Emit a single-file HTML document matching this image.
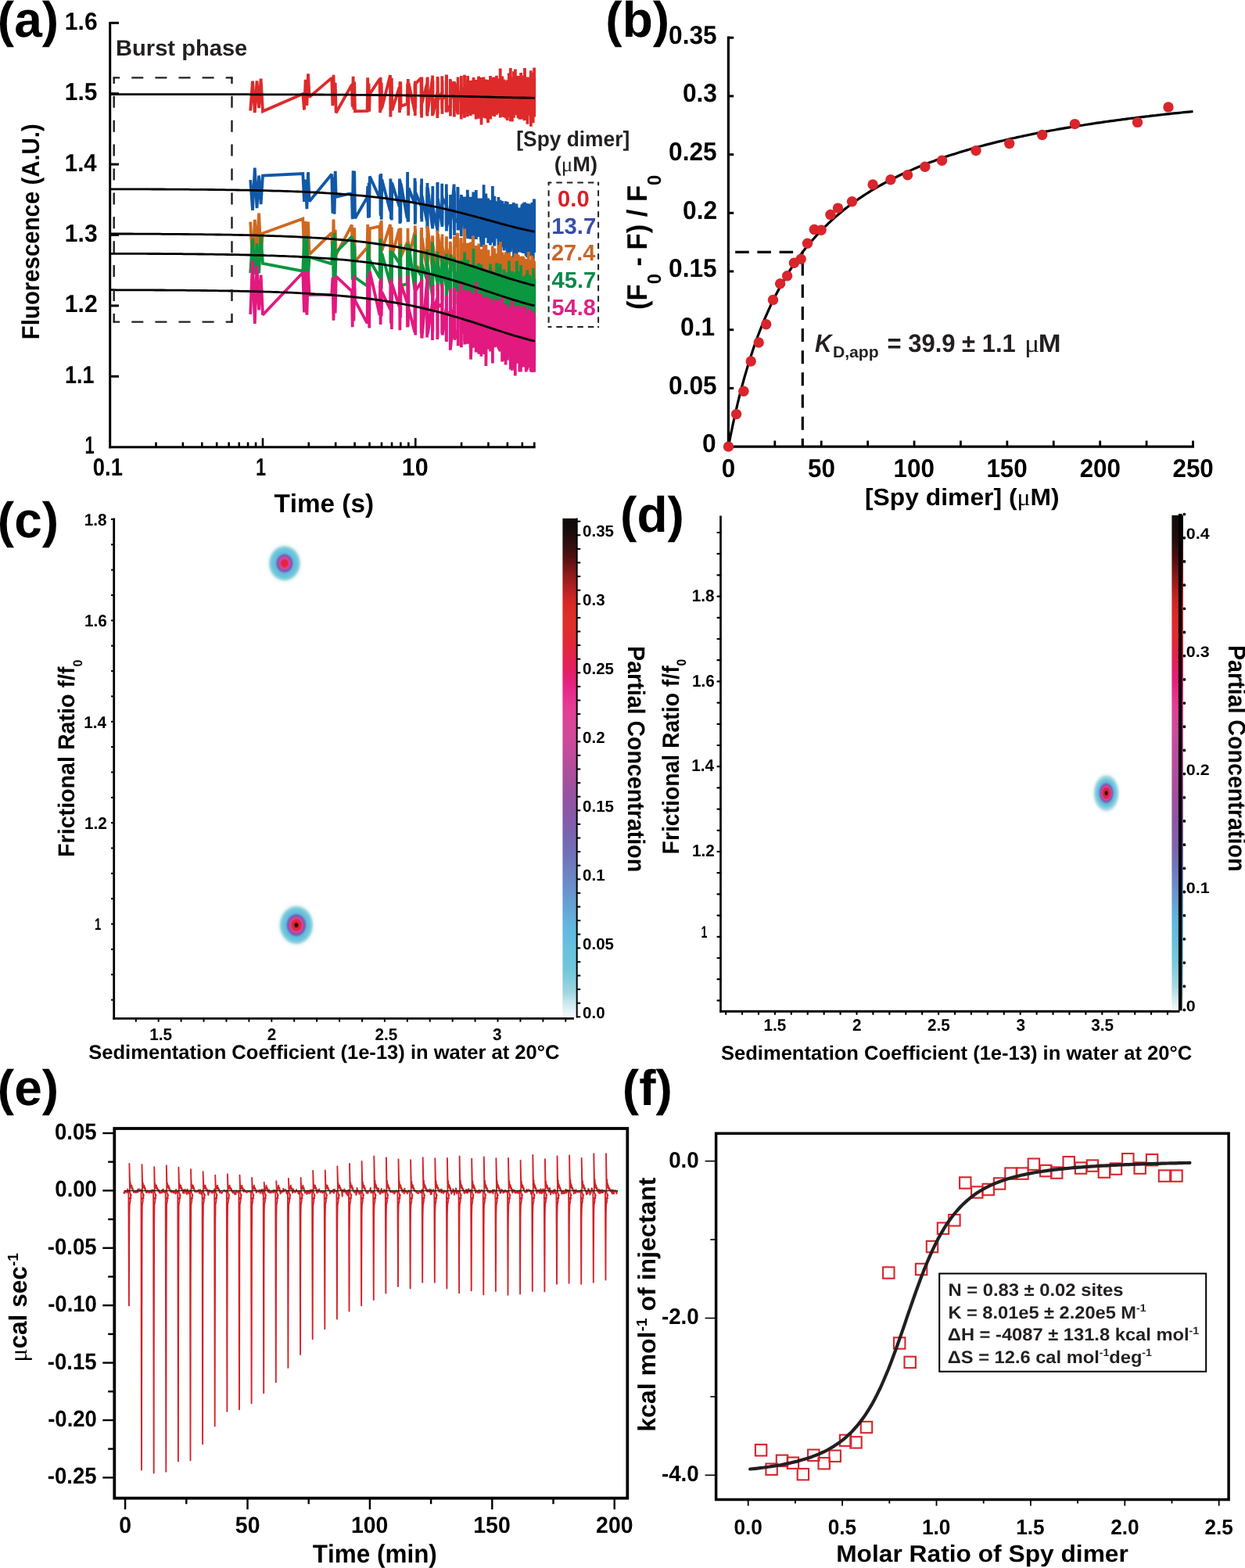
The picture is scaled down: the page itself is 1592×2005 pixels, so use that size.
<!DOCTYPE html><html><head><meta charset="utf-8"><title>Figure</title><style>html,body{margin:0;padding:0;background:#fff;}svg{display:block;font-kerning:none;}</style></head><body>
<svg width="1592" height="2005" viewBox="0 0 1592 2005" text-rendering="geometricPrecision">
<rect width="1592" height="2005" fill="#fff"/>
<g fill="none" stroke-width="3.8" stroke-linejoin="miter" stroke-miterlimit="2">
<path d="M320.2 141.6L323 103.6L325.8 144.2L328.5 103.5L331.1 138.2L333.6 100.7L336 142.3L387.3 120L389 140.5L390.7 101.9L392.4 134.9L394 94.4L395.6 124.1L424.2 99.6L425.4 135.3L426.5 95.9L427.6 133.7L428.7 105.7L429.7 144.3L449.9 108.2L450.7 136.7L451.6 97.9L452.4 140.2L453.2 104.6L454 142.2L469.6 141.9L470.2 99.2L470.9 138.4L471.6 106.8L472.2 142.6L472.8 120.2L485.5 101L486.1 144.2L486.6 98.9L487.2 141.2L487.7 105.7L488.3 138.4L499 96.1L499.4 149.4L499.9 108.4L500.4 136.9L500.8 99.8L501.3 141.1L510.6 111.6L511 143.9L511.4 104.3L511.8 140.2L512.2 104.6L512.6 135.8L520.7 132.8L521.1 106.7L521.5 134.9L521.8 101L522.2 147.7L522.6 106.3L530.3 142.4L530.5 106L530.8 148.1L531 103.5L531.2 138.9L531.5 106.8L538.5 99.7L538.7 146.2L538.9 101.6L539.1 150.5L539.3 98.6L539.5 132.2L545.9 107.5L546.1 147.3L546.3 100L546.5 148.4L546.7 98.5L546.9 143.3L552.8 100.6L553 148.2L553.1 96.6L553.3 142L553.5 103.1L553.7 146.4L559.1 118.8L559.3 150.9L559.5 98.1L559.6 147L559.8 99.7L560 128.1L565 118.5L565.2 139.5L565.3 97.3L565.5 145.7L565.6 103L565.8 126.8L570.5 120.9L570.7 143.1L570.8 95.5L571 143.7L571.1 95.6L571.3 134.6L575.7 143.1L575.8 100.9L576 148.5L576.1 109.5L576.3 137.9L576.4 103.5L580.6 127L580.7 103.9L580.9 149.5L581 107.5L581.1 140L581.2 105.4L585.2 145.6L585.3 106.3L585.5 143.1L585.6 98.6L585.7 146.4L585.8 116.4L589.6 129.2L589.7 109.1L589.8 152.5L589.9 97L590.1 146.3L590.2 115.2L593.7 112.4L593.9 150.8L594 95.8L594.1 142.9L594.2 108.7L594.3 131.7L597.7 122.7L597.8 149.2L597.9 101.6L598 143.6L598.1 96.9L598.3 129L601.5 144.3L601.6 105.1L601.7 148.1L601.8 102.9L601.9 137.9L602 106L605.1 117.2L605.2 146.2L605.3 102L605.4 146.2L605.5 98.9L605.6 133.3L608.6 103.5L608.7 152.4L608.8 102.1L608.9 135.7L609 102.2L609.1 141.7L612 130.1L612 99L612.1 144.8L612.2 97.4L612.3 151.7L612.4 124.4L615.2 127.1L615.3 99L615.3 144.4L615.4 108L615.5 159.4L615.6 104.6L618.3 130L618.4 102.4L618.4 143.8L618.5 98.5L618.6 150.7L618.7 103.9L621.3 117.5L621.3 151.5L621.4 101.5L621.5 144L621.6 106.9L621.7 128.1L624.1 156.9L624.2 106.2L624.3 145.9L624.4 101.9L624.5 144.5L624.5 120.6L626.9 128.2L627 97.1L627.1 148.5L627.2 109.2L627.2 152.5L627.3 106.9L629.6 132.9L629.7 98.7L629.8 148.2L629.9 107.2L629.9 143L630 119.2L632.3 137L632.3 106.6L632.4 149.1L632.5 98.6L632.5 146.2L632.6 105.8L634.8 125.8L634.9 100.9L634.9 146.3L635 96.7L635.1 146.8L635.1 109.9L637.3 128.7L637.3 100.5L637.4 144.7L637.5 103.9L637.5 139.1L637.6 105.6L639.7 139.5L639.7 87.6L639.8 150.4L639.9 102.1L639.9 139L640 115.5L642 123L642.1 139.2L642.1 103.2L642.2 149L642.3 97.5L642.3 139.6L644.3 102.9L644.3 150.1L644.4 102.5L644.5 144.3L644.5 101.6L644.6 144.7L646.5 128.6L646.5 110.2L646.6 144.9L646.7 103.7L646.7 151.4L646.8 116.7L648.6 128L648.7 102.3L648.7 154.1L648.8 104L648.9 149.3L648.9 116.5L650.7 150L650.8 93.5L650.8 142.7L650.9 101.5L651 149.2L651 97.2L652.8 148L652.8 87.1L652.9 155.3L652.9 101.7L653 149.8L653.1 98.2L654.8 155.2L654.8 100L654.9 155.5L654.9 102.3L655 147.7L655.1 100.8L656.7 106.5L656.8 147L656.8 104L656.9 150.8L657 91.3L657 146.3L658.6 102.9L658.7 141.5L658.8 107.5L658.8 147.2L658.9 88.5L658.9 147L660.5 141.2L660.6 110.7L660.6 143.7L660.7 104.3L660.7 136.8L660.8 97.5L662.3 111.2L662.4 139.3L662.4 109.5L662.5 150.9L662.5 97L662.6 140.3L664.1 99.5L664.2 140.8L664.2 109.8L664.3 152.6L664.3 108.3L664.4 144.4L665.9 152.5L665.9 106.8L666 152.7L666 105.3L666.1 150.9L666.1 93L667.6 148.1L667.7 108.5L667.7 148.9L667.7 99.2L667.8 139.4L667.8 103.6L669.3 102.7L669.3 151.9L669.4 105L669.4 149L669.5 96.5L669.5 150L670.9 153.8L671 87L671 147.3L671.1 107.5L671.1 143.3L671.2 99.1L672.6 100.5L672.6 152.1L672.6 104.8L672.7 140.9L672.7 98.5L672.8 146.2L674.1 105L674.2 150.4L674.2 99.6L674.3 150.9L674.3 103.8L674.4 158.8L675.7 112.1L675.8 141.7L675.8 113L675.8 147.4L675.9 98.6L675.9 147.2L677.2 105.8L677.3 147L677.3 109.6L677.4 147.6L677.4 109.9L677.5 145.9L678.7 103.5L678.8 148.4L678.8 90.3L678.9 161.7L678.9 109.2L679 148.4L680.2 99.7L680.3 135.7L680.3 108.9L680.3 144.7L680.4 93L680.4 150.5L681.7 103.8L681.7 157.3L681.8 96.9L681.8 143.9L681.8 99.4L681.9 139.2L683.1 145.8L683.1 86.4L683.2 145.5L683.2 103L683.2 149.6L683.3 99.4" stroke="#de2a2a"/>
<path d="M320.2 230.1L323 268.9L325.8 214.5L328.5 266.1L331.1 224.5L333.6 261L336 224.6L387.3 222.1L389 257.9L390.7 229.6L392.4 267.1L394 220.2L395.6 257.5L424.2 222.7L425.4 272.8L426.5 226.6L427.6 273.8L428.7 218.9L429.7 251.9L449.9 247L450.7 280.2L451.6 218.2L452.4 277L453.2 218.8L454 279.2L469.6 252.2L470.2 238.2L470.9 278.7L471.6 233.9L472.2 278L472.8 225.5L485.5 253.3L486.1 223.5L486.6 275.7L487.2 222L487.7 280.8L488.3 229.6L499 270L499.4 228.5L499.9 280L500.4 232.4L500.8 281.6L501.3 234L510.6 264.3L511 228.6L511.4 286.1L511.8 230.9L512.2 284.5L512.6 234.5L520.7 279.2L521.1 219.9L521.5 283.8L521.8 240.1L522.2 283.5L522.6 240.5L530.3 260.5L530.5 227.7L530.8 286.8L531 232.3L531.2 284.7L531.5 246.2L538.5 263.5L538.7 236.5L538.9 279.4L539.1 228.6L539.3 283.6L539.5 250.2L545.9 282.7L546.1 239.3L546.3 292.7L546.5 233.9L546.7 296.3L546.9 239.6L552.8 290.5L553 248.4L553.1 292.4L553.3 238L553.5 289.6L553.7 265.3L559.1 293.2L559.3 233.7L559.5 296.3L559.6 233L559.8 289.8L560 254.3L565 287.3L565.2 234.7L565.3 289.9L565.5 250.3L565.6 288L565.8 253.6L570.5 261.6L570.7 288.9L570.8 235.6L571 295.4L571.1 247.7L571.3 290.6L575.7 263.9L575.8 287L576 249L576.1 305.4L576.3 250L576.4 282.7L580.6 235.6L580.7 293.3L580.9 244.4L581 301L581.1 247.2L581.2 279.6L585.2 284.4L585.3 239.1L585.5 294.5L585.6 240.3L585.7 292.7L585.8 253.4L589.6 295.3L589.7 259.2L589.8 302.2L589.9 249.1L590.1 290.8L590.2 251.3L593.7 287.4L593.9 257.7L594 293.5L594.1 251.4L594.2 291.3L594.3 257.6L597.7 278.1L597.8 242.8L597.9 301.4L598 248.7L598.1 305.3L598.3 260.1L601.5 279.2L601.6 251.7L601.7 305.8L601.8 252.7L601.9 302.3L602 262.9L605.1 271.7L605.2 302.2L605.3 245.6L605.4 296.9L605.5 256.8L605.6 286.4L608.6 257.3L608.7 304.6L608.8 243.1L608.9 305.9L609 256.7L609.1 285.3L612 298.2L612 261L612.1 295.8L612.2 253.5L612.3 303L612.4 263.3L615.2 309.6L615.3 253.6L615.3 307.5L615.4 255.6L615.5 315.7L615.6 269.2L618.3 265.2L618.4 313.3L618.4 255.5L618.5 309L618.6 236.3L618.7 294.4L621.3 247.5L621.3 301.9L621.4 263.7L621.5 304.2L621.6 251.2L621.7 288.6L624.1 280.7L624.2 253.4L624.3 311L624.4 257.5L624.5 303.2L624.5 279.2L626.9 275.2L627 313.4L627.1 255.7L627.2 305.7L627.2 258.3L627.3 290.2L629.6 277L629.7 310.1L629.8 254.3L629.9 299.4L629.9 237.9L630 296.6L632.3 314.5L632.3 250.8L632.4 309.7L632.5 260L632.5 312.7L632.6 261.5L634.8 259.2L634.9 305.2L634.9 257.2L635 298.3L635.1 268L635.1 289.8L637.3 278.5L637.3 307.8L637.4 251.9L637.5 309.6L637.5 253.9L637.6 315.5L639.7 308.1L639.7 255.7L639.8 314.2L639.9 269.3L639.9 330.3L640 277.9L642 305.9L642.1 257L642.1 316.1L642.2 261.9L642.3 312.4L642.3 267.9L644.3 287.6L644.3 265.6L644.4 317.5L644.5 272L644.5 320.5L644.6 260.3L646.5 285L646.5 309.6L646.6 257.2L646.7 315.8L646.7 261L646.8 293.3L648.6 320.3L648.7 258L648.7 332.2L648.8 258.8L648.9 314.3L648.9 270.1L650.7 331.4L650.8 262.9L650.8 313.8L650.9 261.8L651 308.7L651 265.5L652.8 318.4L652.8 261.1L652.9 322.3L652.9 269.3L653 310L653.1 263.6L654.8 266L654.8 316.6L654.9 265.9L654.9 312.3L655 273.9L655.1 318.4L656.7 259.1L656.8 310.2L656.8 262.8L656.9 314.5L657 267.4L657 334.8L658.6 261.3L658.7 315.5L658.8 269L658.8 324.7L658.9 263.4L658.9 321.6L660.5 260.4L660.6 325.1L660.6 265.4L660.7 318.8L660.7 264L660.8 311L662.3 269.2L662.4 318.5L662.4 268.7L662.5 307.4L662.5 266.9L662.6 316.9L664.1 322.3L664.2 270.9L664.2 318.5L664.3 265.4L664.3 311.7L664.4 268.5L665.9 317.4L665.9 274.5L666 313.3L666 269.1L666.1 321.6L666.1 275.9L667.6 261.5L667.7 316.6L667.7 273.7L667.7 323.2L667.8 262.5L667.8 323L669.3 260.1L669.3 315L669.4 259.4L669.4 324.1L669.5 271L669.5 321.8L670.9 318L671 258.4L671 320.5L671.1 265.5L671.1 318.9L671.2 269.3L672.6 319.3L672.6 261.2L672.6 327.3L672.7 260.1L672.7 323.1L672.8 271.6L674.1 313.7L674.2 264.3L674.2 329.3L674.3 264.6L674.3 321.7L674.4 261L675.7 326.2L675.8 264.4L675.8 325.2L675.8 260.5L675.9 315.4L675.9 260.9L677.2 316.2L677.3 275.8L677.3 327.8L677.4 266.1L677.4 322L677.5 261.2L678.7 321.3L678.8 268.7L678.8 320.1L678.9 272L678.9 326.4L679 269.2L680.2 325L680.3 261.5L680.3 319.9L680.3 259L680.4 314.8L680.4 271.8L681.7 322.5L681.7 269L681.8 326.2L681.8 263.3L681.8 338.5L681.9 265.5L683.1 254.5L683.1 322.9L683.2 258.8L683.2 322L683.2 263.3L683.3 320" stroke="#1158a7"/>
<path d="M320.2 283.7L323 336.5L325.8 280.8L328.5 321.4L331.1 272.6L333.6 326.4L336 298.3L387.3 279.7L389 322.9L390.7 283.1L392.4 333L394 283.6L395.6 325.3L424.2 297.7L425.4 331.2L426.5 280.5L427.6 321.4L428.7 293.7L429.7 325.9L449.9 287.6L450.7 330.4L451.6 291.2L452.4 335.2L453.2 291.2L454 334.3L469.6 316.5L470.2 287.1L470.9 339.5L471.6 290.2L472.2 340L472.8 292.2L485.5 289.4L486.1 334.6L486.6 284.5L487.2 332.5L487.7 281.9L488.3 320.3L499 287.1L499.4 340L499.9 293.4L500.4 330.8L500.8 290.6L501.3 326.7L510.6 292.4L511 341.3L511.4 292.8L511.8 343.8L512.2 291.5L512.6 328.1L520.7 310.1L521.1 347.5L521.5 291.8L521.8 349.5L522.2 308.3L522.6 329.9L530.3 297.1L530.5 340.8L530.8 288.6L531 344.6L531.2 292.7L531.5 339.4L538.5 344.8L538.7 294.3L538.9 344.4L539.1 290.9L539.3 349.8L539.5 303.4L545.9 344.6L546.1 304.3L546.3 348.6L546.5 289.3L546.7 352.3L546.9 289.2L552.8 344.5L553 301.3L553.1 351.8L553.3 302.7L553.5 343.3L553.7 313.8L559.1 352.9L559.3 294.8L559.5 357.9L559.6 311.1L559.8 355.8L560 299.1L565 339.4L565.2 303.7L565.3 353.9L565.5 299.6L565.6 357.5L565.8 316L570.5 342.2L570.7 304.6L570.8 356.1L571 302.2L571.1 358.1L571.3 317.3L575.7 339.6L575.8 308.8L576 353.9L576.1 310.5L576.3 356.6L576.4 325.2L580.6 348L580.7 314.9L580.9 354.5L581 302L581.1 354.3L581.2 316.7L585.2 298L585.3 356.4L585.5 309.1L585.6 367.2L585.7 305.4L585.8 349.5L589.6 347.4L589.7 303.9L589.8 366.4L589.9 312.9L590.1 362.4L590.2 312.5L593.7 312.1L593.9 354.9L594 292.4L594.1 364.3L594.2 305.5L594.3 363.2L597.7 332.5L597.8 362.3L597.9 310.7L598 369.6L598.1 311L598.3 362.6L601.5 339.8L601.6 358.2L601.7 309.6L601.8 373.2L601.9 315.9L602 346.6L605.1 301.5L605.2 353.7L605.3 315.5L605.4 363.7L605.5 314.3L605.6 346.9L608.6 351.1L608.7 314.1L608.8 370.6L608.9 314.5L609 365.4L609.1 314.8L612 319.6L612 372.8L612.1 328.8L612.2 385.1L612.3 311.6L612.4 364.2L615.2 347.6L615.3 388L615.3 318.8L615.4 372L615.5 318.6L615.6 365.6L618.3 332.8L618.4 370.1L618.4 323.1L618.5 369.1L618.6 313.3L618.7 360.4L621.3 327.7L621.3 371.4L621.4 313.1L621.5 365.1L621.6 324.6L621.7 354L624.1 342.2L624.2 373.4L624.3 326L624.4 372.1L624.5 319.4L624.5 372.1L626.9 376.9L627 328.9L627.1 367.8L627.2 327.2L627.2 391.8L627.3 330.7L629.6 350.5L629.7 314.6L629.8 371.9L629.9 319.9L629.9 379L630 331.8L632.3 374.2L632.3 317.5L632.4 380.4L632.5 326.2L632.5 382.4L632.6 325.8L634.8 353.3L634.9 324.3L634.9 371.5L635 329L635.1 369.7L635.1 349.5L637.3 379.2L637.3 316.6L637.4 376.9L637.5 313.2L637.5 376L637.6 325.7L639.7 359.3L639.7 322.2L639.8 379L639.9 309.3L639.9 377.6L640 347L642 368.1L642.1 322.5L642.1 387.2L642.2 324L642.3 376.2L642.3 331.1L644.3 354.2L644.3 332.5L644.4 381.8L644.5 325.5L644.5 386L644.6 336.1L646.5 373.2L646.5 322.3L646.6 384.5L646.7 333.5L646.7 385.1L646.8 342.5L648.6 386.5L648.7 324.2L648.7 379.5L648.8 330.8L648.9 379.6L648.9 346.8L650.7 387L650.8 323L650.8 387.8L650.9 327.9L651 383L651 336L652.8 379.1L652.8 328.1L652.9 384L652.9 340.9L653 379.3L653.1 327.4L654.8 380.6L654.8 329.7L654.9 386.7L654.9 330.5L655 388.3L655.1 333.5L656.7 387.5L656.8 339.4L656.8 381.8L656.9 329.2L657 376.1L657 337.8L658.6 326.7L658.7 385.7L658.8 329.4L658.8 389.7L658.9 323.8L658.9 396.4L660.5 335.3L660.6 381.5L660.6 324.9L660.7 392.4L660.7 336.7L660.8 384.7L662.3 380.7L662.4 339.5L662.4 392.9L662.5 336.8L662.5 384.9L662.6 325.8L664.1 337L664.2 388.7L664.2 328.9L664.3 397.3L664.3 328.8L664.4 400.5L665.9 329.8L665.9 384L666 346.5L666 383.1L666.1 328.1L666.1 390.1L667.6 391.6L667.7 334L667.7 384.8L667.7 327.6L667.8 375.8L667.8 333.7L669.3 386.1L669.3 328.3L669.4 386.5L669.4 328.9L669.5 405.1L669.5 333.9L670.9 387.8L671 337.4L671 386.3L671.1 350.8L671.1 385.9L671.2 335.2L672.6 331.2L672.6 388.9L672.6 338L672.7 404.5L672.7 339.7L672.8 394.1L674.1 387L674.2 340.4L674.2 407.3L674.3 337.7L674.3 384.3L674.4 336.4L675.7 336.7L675.8 383.2L675.8 336.6L675.8 395.9L675.9 322.1L675.9 387.4L677.2 341.4L677.3 392.7L677.3 334.8L677.4 396.3L677.4 338L677.5 394L678.7 332.6L678.8 399.6L678.8 337L678.9 384.8L678.9 333L679 389.2L680.2 394.2L680.3 342.2L680.3 391.6L680.3 327.7L680.4 377.5L680.4 327.3L681.7 398.7L681.7 330L681.8 405.5L681.8 331.7L681.8 389.6L681.9 336.4L683.1 395.3L683.1 334.1L683.2 392.7L683.2 336.7L683.2 397.8L683.3 350.6" stroke="#d0681f"/>
<path d="M320.2 349L323 304.9L325.8 350.9L328.5 311.4L331.1 349.5L333.6 301.3L336 336.8L387.3 346.6L389 303.3L390.7 359.2L392.4 301.3L394 353.4L395.6 328.7L424.2 337.4L425.4 308.6L426.5 358.8L427.6 297.8L428.7 356.1L429.7 322.3L449.9 302.5L450.7 357.7L451.6 305.4L452.4 363.9L453.2 313.8L454 354.7L469.6 365.7L470.2 317.2L470.9 362L471.6 311.4L472.2 353.7L472.8 332.7L485.5 355L486.1 305.1L486.6 360.8L487.2 311.7L487.7 368.6L488.3 323.9L499 363.1L499.4 320L499.9 373.9L500.4 320.9L500.8 371.2L501.3 322.3L510.6 336.4L511 368L511.4 320.4L511.8 377.1L512.2 312.3L512.6 365.2L520.7 363.1L521.1 311.6L521.5 376.2L521.8 328.1L522.2 373.4L522.6 312.2L530.3 370.6L530.5 318.3L530.8 366.9L531 299.8L531.2 371.3L531.5 341.6L538.5 352.1L538.7 322.5L538.9 379.9L539.1 327.4L539.3 367.3L539.5 337.2L545.9 357.8L546.1 324.5L546.3 375.1L546.5 318.9L546.7 370.7L546.9 338.6L552.8 378.2L553 309.6L553.1 392L553.3 327.5L553.5 377.9L553.7 330.6L559.1 360.8L559.3 321.6L559.5 372.2L559.6 326.6L559.8 377.6L560 336.1L565 367.5L565.2 329.8L565.3 382.8L565.5 336.4L565.6 384.2L565.8 329L570.5 365.4L570.7 325.4L570.8 387.4L571 324.4L571.1 409.4L571.3 341.3L575.7 374.1L575.8 331.3L576 384.5L576.1 325.2L576.3 390L576.4 337.9L580.6 336.6L580.7 388L580.9 342L581 392.2L581.1 328.7L581.2 373.8L585.2 347.5L585.3 388.9L585.5 333.1L585.6 380.6L585.7 337.3L585.8 363.7L589.6 348.1L589.7 392.8L589.8 333.3L589.9 388.8L590.1 332.9L590.2 387.3L593.7 353.8L593.9 384.2L594 329.3L594.1 391.1L594.2 322.6L594.3 373.6L597.7 353.7L597.8 387.3L597.9 336.5L598 394.2L598.1 332.3L598.3 380.9L601.5 385.7L601.6 341.1L601.7 386.4L601.8 340.6L601.9 411.6L602 363.8L605.1 389.7L605.2 337.6L605.3 405L605.4 317.9L605.5 398.1L605.6 360.3L608.6 349.5L608.7 398.6L608.8 339.4L608.9 384.7L609 338.8L609.1 392.6L612 349.5L612 399.8L612.1 336.6L612.2 401.3L612.3 343.7L612.4 369.1L615.2 389.8L615.3 338.3L615.3 405L615.4 341.9L615.5 405.4L615.6 353.2L618.3 404L618.4 344.5L618.4 397L618.5 348.8L618.6 395L618.7 343.5L621.3 378.4L621.3 347.4L621.4 399L621.5 347.7L621.6 394.3L621.7 349.1L624.1 388.9L624.2 350.4L624.3 394L624.4 345.2L624.5 398.1L624.5 361.6L626.9 368.9L627 405.9L627.1 337.6L627.2 394.2L627.2 348.4L627.3 394.2L629.6 375L629.7 345.7L629.8 399.6L629.9 350.9L629.9 400.1L630 359.2L632.3 408.4L632.3 349.1L632.4 411.3L632.5 348.7L632.5 402.9L632.6 354.3L634.8 401.3L634.9 352.8L634.9 423.4L635 343.8L635.1 403.3L635.1 336.4L637.3 390.8L637.3 351.1L637.4 405.5L637.5 341.1L637.5 407.5L637.6 375L639.7 359L639.7 402.1L639.8 337.5L639.9 409.1L639.9 353.3L640 398.7L642 364.7L642.1 395.8L642.1 352.4L642.2 416.2L642.3 350.5L642.3 395.2L644.3 357.7L644.3 406.4L644.4 353L644.5 402.8L644.5 344.5L644.6 379.7L646.5 377.8L646.5 407.8L646.6 348.4L646.7 407.9L646.7 348.7L646.8 397.5L648.6 365.1L648.7 413.1L648.7 354.1L648.8 404L648.9 362.1L648.9 382.6L650.7 347.9L650.8 398.6L650.8 359.9L650.9 415.4L651 333.6L651 417.5L652.8 364.4L652.8 399.4L652.9 361.5L652.9 410.9L653 361.2L653.1 397.1L654.8 346.7L654.8 410.6L654.9 356.3L654.9 402.5L655 356.4L655.1 409.6L656.7 418.7L656.8 357.5L656.8 431.2L656.9 357.9L657 404.1L657 359.1L658.6 354.2L658.7 422.7L658.8 352.1L658.8 416L658.9 348.3L658.9 419.9L660.5 407.1L660.6 357.3L660.6 420.1L660.7 360.6L660.7 414.4L660.8 333.8L662.3 422.4L662.4 346.7L662.4 416.7L662.5 351.5L662.5 432.9L662.6 351.5L664.1 365.9L664.2 404.5L664.2 349L664.3 419.9L664.3 363.9L664.4 410.9L665.9 365.9L665.9 420.7L666 350.6L666 412.6L666.1 339.3L666.1 418L667.6 367.4L667.7 433.2L667.7 353.5L667.7 417.1L667.8 367.5L667.8 409.2L669.3 362.9L669.3 403.2L669.4 353.4L669.4 405.8L669.5 367L669.5 412L670.9 420.3L671 354.2L671 415.3L671.1 357.1L671.1 415.4L671.2 357.5L672.6 406.6L672.6 351.3L672.6 413.5L672.7 366.6L672.7 425.2L672.8 370.4L674.1 367.3L674.2 409.7L674.2 362L674.3 431.6L674.3 345.3L674.4 425.1L675.7 424.7L675.8 367.2L675.8 428.4L675.8 356.7L675.9 420.7L675.9 369.5L677.2 352.7L677.3 409.4L677.3 367.2L677.4 417.1L677.4 351.8L677.5 422.4L678.7 420.7L678.8 365.3L678.8 417.8L678.9 363.1L678.9 416.7L679 370.4L680.2 425.7L680.3 364.1L680.3 423.2L680.3 355.8L680.4 427.6L680.4 354.8L681.7 426.5L681.7 354.4L681.8 426.4L681.8 363.2L681.8 420.9L681.9 343L683.1 417L683.1 357.5L683.2 423.7L683.2 356.5L683.2 420.3L683.3 362.6" stroke="#0b9640"/>
<path d="M320.2 401.8L323 333.8L325.8 414L328.5 339.9L331.1 396.3L333.6 351.7L336 402.7L387.3 348.5L389 399.4L390.7 347.4L392.4 402.7L394 346.7L395.6 377.1L424.2 376.6L425.4 354.9L426.5 409.6L427.6 357.7L428.7 400.5L429.7 353.4L449.9 372.3L450.7 418.3L451.6 357L452.4 410.5L453.2 352.3L454 384.4L469.6 413.3L470.2 355.3L470.9 408.3L471.6 365.9L472.2 419.5L472.8 346.9L485.5 402.9L486.1 360.1L486.6 414.9L487.2 355.6L487.7 404.5L488.3 373.3L499 395.6L499.4 358.6L499.9 413.4L500.4 356.6L500.8 421.1L501.3 363L510.6 392.2L511 360.2L511.4 422.2L511.8 354L512.2 406.2L512.6 362.8L520.7 386.9L521.1 418.4L521.5 351.7L521.8 416.9L522.2 360.8L522.6 394.8L530.3 424.9L530.5 362.6L530.8 417.6L531 359.8L531.2 428.6L531.5 371.8L538.5 360.8L538.7 426.3L538.9 368.2L539.1 431.5L539.3 357.5L539.5 432.5L545.9 361.4L546.1 431.5L546.3 353L546.5 415.6L546.7 349.4L546.9 427.1L552.8 388L553 435.1L553.1 371.7L553.3 424L553.5 364.3L553.7 400.3L559.1 381.1L559.3 434.1L559.5 362.4L559.6 432.1L559.8 367L560 392.8L565 388.4L565.2 426.5L565.3 362.6L565.5 423.2L565.6 367.4L565.8 428.5L570.5 394.1L570.7 435.9L570.8 378.6L571 437L571.1 377.8L571.3 404L575.7 398L575.8 447.8L576 372.9L576.1 446.3L576.3 369L576.4 443.4L580.6 392L580.7 432L580.9 370.6L581 428.3L581.1 368L581.2 434.4L585.2 421.6L585.3 376.6L585.5 421.8L585.6 372.9L585.7 442.3L585.8 402L589.6 362L589.7 444.1L589.8 373.2L589.9 444.3L590.1 373.1L590.2 426.6L593.7 410.3L593.9 370.3L594 436.5L594.1 372.3L594.2 440.4L594.3 407.4L597.7 427.7L597.8 381.4L597.9 439.8L598 371.4L598.1 437.7L598.3 388.5L601.5 405.7L601.6 444.7L601.7 371.7L601.8 448.5L601.9 377.6L602 459.6L605.1 375.5L605.2 444.8L605.3 383.7L605.4 439.1L605.5 381.7L605.6 442.8L608.6 410.7L608.7 450.5L608.8 383L608.9 436.1L609 360.5L609.1 425.1L612 444.1L612 387.4L612.1 445.2L612.2 375.5L612.3 452.8L612.4 411.7L615.2 397.2L615.3 451.4L615.3 385.5L615.4 455.7L615.5 375.9L615.6 431.9L618.3 424.6L618.4 395L618.4 441.1L618.5 381.1L618.6 453L618.7 402.7L621.3 447.7L621.3 399.3L621.4 468.1L621.5 379.2L621.6 460.1L621.7 412L624.1 385.6L624.2 446.8L624.3 392.1L624.4 441.8L624.5 380.7L624.5 436.7L626.9 428.4L627 382.6L627.1 448.6L627.2 382.8L627.2 449.4L627.3 404.1L629.6 427L629.7 405.6L629.8 461L629.9 387.6L629.9 464.6L630 410.3L632.3 396.6L632.3 444.3L632.4 382.3L632.5 441.8L632.5 389.1L632.6 434.1L634.8 408.9L634.9 443.4L634.9 386L635 442.1L635.1 386.1L635.1 432.6L637.3 400L637.3 445.2L637.4 382.5L637.5 444.4L637.5 390.1L637.6 444.9L639.7 449L639.7 402.6L639.8 443.8L639.9 393.8L639.9 444.4L640 383.8L642 438.5L642.1 381.1L642.1 462.6L642.2 397.8L642.3 459.2L642.3 396.6L644.3 458.2L644.3 390.1L644.4 461.4L644.5 398.5L644.5 456L644.6 389.8L646.5 444.2L646.5 388.3L646.6 466.5L646.7 391.9L646.7 447.9L646.8 417.6L648.6 393.1L648.7 456.1L648.7 394.8L648.8 445.9L648.9 396.5L648.9 460.7L650.7 399.7L650.8 451.3L650.8 394.2L650.9 456.4L651 407.7L651 452.6L652.8 391.1L652.8 455L652.9 394.8L652.9 472.6L653 400.1L653.1 452L654.8 473.7L654.8 384.8L654.9 458.5L654.9 398.9L655 461.3L655.1 400.4L656.7 455.7L656.8 400.4L656.8 469.5L656.9 401.4L657 458.3L657 397.1L658.6 471.9L658.7 396.6L658.8 480.5L658.8 391.6L658.9 467L658.9 413.3L660.5 447.7L660.6 405.8L660.6 457.8L660.7 394.1L660.7 463.1L660.8 405.8L662.3 409.2L662.4 464.8L662.4 396.4L662.5 460.7L662.5 391.7L662.6 463.7L664.1 391.1L664.2 458.2L664.2 402.4L664.3 475.6L664.3 396.7L664.4 447.2L665.9 394.2L665.9 475.4L666 395L666 458.1L666.1 402L666.1 465.9L667.6 454.5L667.7 405.9L667.7 469.6L667.7 397.1L667.8 457.9L667.8 402.2L669.3 391.8L669.3 466.3L669.4 401.1L669.4 460.4L669.5 404.8L669.5 463.4L670.9 409.7L671 463.6L671 393.4L671.1 455.3L671.1 392.5L671.2 469.2L672.6 404.1L672.6 470.1L672.6 406.4L672.7 464.8L672.7 405.5L672.8 475.5L674.1 400.5L674.2 468.4L674.2 405.4L674.3 464L674.3 402.4L674.4 472.8L675.7 414.9L675.8 462.1L675.8 394.4L675.8 458.1L675.9 416.3L675.9 464.2L677.2 405.9L677.3 467.8L677.3 405.2L677.4 469.9L677.4 414.5L677.5 465.3L678.7 396.3L678.8 466.9L678.8 409.5L678.9 475.3L678.9 410.6L679 472.2L680.2 409.6L680.3 466.3L680.3 400.7L680.3 457.4L680.4 399.9L680.4 476.1L681.7 403L681.7 466.7L681.8 398.8L681.8 473.2L681.8 407.5L681.9 459.6L683.1 404L683.1 475.8L683.2 403L683.2 463.2L683.2 413L683.3 460.4" stroke="#e2197f"/>
</g>
<path d="M140.7 120.6L145.2 120.6L149.7 120.6L154.3 120.6L158.8 120.6L163.3 120.6L167.8 120.6L172.4 120.6L176.9 120.6L181.4 120.6L185.9 120.6L190.5 120.6L195 120.6L199.5 120.6L204 120.6L208.6 120.6L213.1 120.6L217.6 120.6L222.1 120.7L226.7 120.7L231.2 120.7L235.7 120.7L240.2 120.7L244.8 120.7L249.3 120.7L253.8 120.7L258.3 120.7L262.9 120.7L267.4 120.7L271.9 120.7L276.4 120.7L281 120.7L285.5 120.7L290 120.7L294.5 120.7L299.1 120.7L303.6 120.7L308.1 120.7L312.6 120.7L317.2 120.7L321.7 120.8L326.2 120.8L330.7 120.8L335.3 120.8L339.8 120.8L344.3 120.8L348.8 120.8L353.4 120.8L357.9 120.8L362.4 120.8L366.9 120.9L371.5 120.9L376 120.9L380.5 120.9L385 120.9L389.6 120.9L394.1 121L398.6 121L403.1 121L407.7 121L412.2 121L416.7 121.1L421.2 121.1L425.8 121.1L430.3 121.1L434.8 121.2L439.3 121.2L443.9 121.2L448.4 121.2L452.9 121.3L457.4 121.3L462 121.3L466.5 121.4L471 121.4L475.5 121.5L480.1 121.5L484.6 121.6L489.1 121.6L493.6 121.6L498.2 121.7L502.7 121.8L507.2 121.8L511.7 121.9L516.3 121.9L520.8 122L525.3 122.1L529.8 122.1L534.4 122.2L538.9 122.3L543.4 122.3L547.9 122.4L552.5 122.5L557 122.6L561.5 122.7L566 122.7L570.6 122.8L575.1 122.9L579.6 123L584.1 123.1L588.7 123.2L593.2 123.3L597.7 123.4L602.2 123.5L606.8 123.6L611.3 123.7L615.8 123.8L620.3 123.9L624.9 124L629.4 124.1L633.9 124.3L638.4 124.4L643 124.5L647.5 124.6L652 124.7L656.5 124.8L661.1 124.9L665.6 125L670.1 125L674.6 125.1L679.2 125.2L683.7 125.3" fill="none" stroke="#000" stroke-width="2.8" />
<path d="M140.7 241.8L145.2 241.8L149.7 241.8L154.3 241.8L158.8 241.8L163.3 241.8L167.8 241.8L172.4 241.9L176.9 241.9L181.4 241.9L185.9 241.9L190.5 241.9L195 242L199.5 242L204 242L208.6 242L213.1 242.1L217.6 242.1L222.1 242.1L226.7 242.1L231.2 242.2L235.7 242.2L240.2 242.2L244.8 242.3L249.3 242.3L253.8 242.4L258.3 242.4L262.9 242.4L267.4 242.5L271.9 242.5L276.4 242.6L281 242.7L285.5 242.7L290 242.8L294.5 242.8L299.1 242.9L303.6 243L308.1 243.1L312.6 243.1L317.2 243.2L321.7 243.3L326.2 243.4L330.7 243.5L335.3 243.6L339.8 243.7L344.3 243.8L348.8 244L353.4 244.1L357.9 244.2L362.4 244.4L366.9 244.5L371.5 244.7L376 244.9L380.5 245L385 245.2L389.6 245.4L394.1 245.6L398.6 245.8L403.1 246L407.7 246.3L412.2 246.5L416.7 246.8L421.2 247.1L425.8 247.4L430.3 247.7L434.8 248L439.3 248.3L443.9 248.7L448.4 249L452.9 249.4L457.4 249.8L462 250.2L466.5 250.7L471 251.1L475.5 251.6L480.1 252.1L484.6 252.6L489.1 253.2L493.6 253.7L498.2 254.3L502.7 255L507.2 255.6L511.7 256.3L516.3 257L520.8 257.7L525.3 258.5L529.8 259.2L534.4 260.1L538.9 260.9L543.4 261.8L547.9 262.7L552.5 263.6L557 264.5L561.5 265.5L566 266.5L570.6 267.6L575.1 268.6L579.6 269.7L584.1 270.9L588.7 272L593.2 273.1L597.7 274.3L602.2 275.5L606.8 276.7L611.3 278L615.8 279.2L620.3 280.4L624.9 281.7L629.4 282.9L633.9 284.1L638.4 285.4L643 286.6L647.5 287.8L652 289L656.5 290.1L661.1 291.3L665.6 292.4L670.1 293.4L674.6 294.4L679.2 295.4L683.7 296.4" fill="none" stroke="#000" stroke-width="2.8" />
<path d="M140.7 298.9L145.2 299L149.7 299L154.3 299L158.8 299L163.3 299L167.8 299L172.4 299.1L176.9 299.1L181.4 299.1L185.9 299.1L190.5 299.2L195 299.2L199.5 299.2L204 299.2L208.6 299.3L213.1 299.3L217.6 299.3L222.1 299.4L226.7 299.4L231.2 299.4L235.7 299.5L240.2 299.5L244.8 299.6L249.3 299.6L253.8 299.7L258.3 299.7L262.9 299.8L267.4 299.8L271.9 299.9L276.4 300L281 300L285.5 300.1L290 300.2L294.5 300.2L299.1 300.3L303.6 300.4L308.1 300.5L312.6 300.6L317.2 300.7L321.7 300.8L326.2 300.9L330.7 301.1L335.3 301.2L339.8 301.3L344.3 301.5L348.8 301.6L353.4 301.8L357.9 301.9L362.4 302.1L366.9 302.3L371.5 302.5L376 302.7L380.5 302.9L385 303.1L389.6 303.4L394.1 303.6L398.6 303.9L403.1 304.1L407.7 304.4L412.2 304.7L416.7 305L421.2 305.4L425.8 305.7L430.3 306.1L434.8 306.5L439.3 306.9L443.9 307.3L448.4 307.7L452.9 308.2L457.4 308.7L462 309.2L466.5 309.7L471 310.3L475.5 310.9L480.1 311.5L484.6 312.1L489.1 312.8L493.6 313.5L498.2 314.2L502.7 315L507.2 315.7L511.7 316.6L516.3 317.4L520.8 318.3L525.3 319.2L529.8 320.2L534.4 321.1L538.9 322.2L543.4 323.2L547.9 324.3L552.5 325.4L557 326.6L561.5 327.8L566 329L570.6 330.3L575.1 331.6L579.6 332.9L584.1 334.3L588.7 335.6L593.2 337L597.7 338.5L602.2 339.9L606.8 341.4L611.3 342.9L615.8 344.4L620.3 345.9L624.9 347.4L629.4 348.9L633.9 350.4L638.4 351.9L643 353.4L647.5 354.8L652 356.3L656.5 357.7L661.1 359L665.6 360.4L670.1 361.7L674.6 362.9L679.2 364.1L683.7 365.2" fill="none" stroke="#000" stroke-width="2.8" />
<path d="M140.7 324.3L145.2 324.3L149.7 324.3L154.3 324.3L158.8 324.3L163.3 324.3L167.8 324.4L172.4 324.4L176.9 324.4L181.4 324.4L185.9 324.4L190.5 324.5L195 324.5L199.5 324.5L204 324.5L208.6 324.6L213.1 324.6L217.6 324.6L222.1 324.7L226.7 324.7L231.2 324.7L235.7 324.8L240.2 324.8L244.8 324.9L249.3 324.9L253.8 325L258.3 325L262.9 325.1L267.4 325.1L271.9 325.2L276.4 325.3L281 325.3L285.5 325.4L290 325.5L294.5 325.6L299.1 325.7L303.6 325.7L308.1 325.8L312.6 325.9L317.2 326L321.7 326.2L326.2 326.3L330.7 326.4L335.3 326.5L339.8 326.7L344.3 326.8L348.8 326.9L353.4 327.1L357.9 327.3L362.4 327.4L366.9 327.6L371.5 327.8L376 328L380.5 328.2L385 328.5L389.6 328.7L394.1 328.9L398.6 329.2L403.1 329.5L407.7 329.8L412.2 330.1L416.7 330.4L421.2 330.7L425.8 331.1L430.3 331.5L434.8 331.8L439.3 332.2L443.9 332.7L448.4 333.1L452.9 333.6L457.4 334.1L462 334.6L466.5 335.1L471 335.7L475.5 336.3L480.1 336.9L484.6 337.5L489.1 338.2L493.6 338.9L498.2 339.6L502.7 340.4L507.2 341.2L511.7 342L516.3 342.8L520.8 343.7L525.3 344.6L529.8 345.6L534.4 346.6L538.9 347.6L543.4 348.7L547.9 349.8L552.5 350.9L557 352.1L561.5 353.3L566 354.5L570.6 355.8L575.1 357.1L579.6 358.4L584.1 359.8L588.7 361.2L593.2 362.6L597.7 364L602.2 365.5L606.8 367L611.3 368.5L615.8 370L620.3 371.5L624.9 373L629.4 374.5L633.9 376L638.4 377.5L643 379L647.5 380.5L652 381.9L656.5 383.3L661.1 384.7L665.6 386.1L670.1 387.4L674.6 388.6L679.2 389.8L683.7 390.9" fill="none" stroke="#000" stroke-width="2.8" />
<path d="M140.7 370.7L145.2 370.7L149.7 370.8L154.3 370.8L158.8 370.8L163.3 370.8L167.8 370.8L172.4 370.8L176.9 370.9L181.4 370.9L185.9 370.9L190.5 370.9L195 370.9L199.5 371L204 371L208.6 371L213.1 371.1L217.6 371.1L222.1 371.1L226.7 371.2L231.2 371.2L235.7 371.2L240.2 371.3L244.8 371.3L249.3 371.4L253.8 371.4L258.3 371.5L262.9 371.5L267.4 371.6L271.9 371.6L276.4 371.7L281 371.8L285.5 371.9L290 371.9L294.5 372L299.1 372.1L303.6 372.2L308.1 372.3L312.6 372.4L317.2 372.5L321.7 372.6L326.2 372.7L330.7 372.8L335.3 372.9L339.8 373.1L344.3 373.2L348.8 373.4L353.4 373.5L357.9 373.7L362.4 373.8L366.9 374L371.5 374.2L376 374.4L380.5 374.6L385 374.9L389.6 375.1L394.1 375.3L398.6 375.6L403.1 375.9L407.7 376.1L412.2 376.4L416.7 376.8L421.2 377.1L425.8 377.4L430.3 377.8L434.8 378.2L439.3 378.6L443.9 379L448.4 379.4L452.9 379.9L457.4 380.4L462 380.9L466.5 381.4L471 381.9L475.5 382.5L480.1 383.1L484.6 383.7L489.1 384.4L493.6 385.1L498.2 385.8L502.7 386.5L507.2 387.3L511.7 388.1L516.3 389L520.8 389.8L525.3 390.7L529.8 391.7L534.4 392.7L538.9 393.7L543.4 394.7L547.9 395.8L552.5 396.9L557 398L561.5 399.2L566 400.4L570.6 401.7L575.1 403L579.6 404.3L584.1 405.6L588.7 407L593.2 408.4L597.7 409.8L602.2 411.2L606.8 412.7L611.3 414.1L615.8 415.6L620.3 417.1L624.9 418.6L629.4 420.1L633.9 421.6L638.4 423L643 424.5L647.5 426L652 427.4L656.5 428.8L661.1 430.1L665.6 431.4L670.1 432.7L674.6 433.9L679.2 435.1L683.7 436.2" fill="none" stroke="#000" stroke-width="2.8" />
<line x1="140.70" y1="28.00" x2="140.70" y2="573.20" stroke="#000" stroke-width="3" />
<line x1="139.20" y1="571.70" x2="684.60" y2="571.70" stroke="#000" stroke-width="3" />
<line x1="140.70" y1="481.30" x2="152.00" y2="481.30" stroke="#000" stroke-width="3" />
<line x1="140.70" y1="390.90" x2="152.00" y2="390.90" stroke="#000" stroke-width="3" />
<line x1="140.70" y1="300.50" x2="152.00" y2="300.50" stroke="#000" stroke-width="3" />
<line x1="140.70" y1="210.10" x2="152.00" y2="210.10" stroke="#000" stroke-width="3" />
<line x1="140.70" y1="119.70" x2="152.00" y2="119.70" stroke="#000" stroke-width="3" />
<line x1="140.70" y1="29.30" x2="152.00" y2="29.30" stroke="#000" stroke-width="3" />
<line x1="336.00" y1="571.70" x2="336.00" y2="560.20" stroke="#000" stroke-width="2.6" />
<line x1="531.30" y1="571.70" x2="531.30" y2="560.20" stroke="#000" stroke-width="2.6" />
<line x1="199.49" y1="571.70" x2="199.49" y2="565.50" stroke="#000" stroke-width="2.6" />
<line x1="233.88" y1="571.70" x2="233.88" y2="565.50" stroke="#000" stroke-width="2.6" />
<line x1="258.28" y1="571.70" x2="258.28" y2="565.50" stroke="#000" stroke-width="2.6" />
<line x1="277.21" y1="571.70" x2="277.21" y2="565.50" stroke="#000" stroke-width="2.6" />
<line x1="292.67" y1="571.70" x2="292.67" y2="565.50" stroke="#000" stroke-width="2.6" />
<line x1="305.75" y1="571.70" x2="305.75" y2="565.50" stroke="#000" stroke-width="2.6" />
<line x1="317.07" y1="571.70" x2="317.07" y2="565.50" stroke="#000" stroke-width="2.6" />
<line x1="327.06" y1="571.70" x2="327.06" y2="565.50" stroke="#000" stroke-width="2.6" />
<line x1="394.79" y1="571.70" x2="394.79" y2="565.50" stroke="#000" stroke-width="2.6" />
<line x1="429.18" y1="571.70" x2="429.18" y2="565.50" stroke="#000" stroke-width="2.6" />
<line x1="453.58" y1="571.70" x2="453.58" y2="565.50" stroke="#000" stroke-width="2.6" />
<line x1="472.51" y1="571.70" x2="472.51" y2="565.50" stroke="#000" stroke-width="2.6" />
<line x1="487.97" y1="571.70" x2="487.97" y2="565.50" stroke="#000" stroke-width="2.6" />
<line x1="501.05" y1="571.70" x2="501.05" y2="565.50" stroke="#000" stroke-width="2.6" />
<line x1="512.37" y1="571.70" x2="512.37" y2="565.50" stroke="#000" stroke-width="2.6" />
<line x1="522.36" y1="571.70" x2="522.36" y2="565.50" stroke="#000" stroke-width="2.6" />
<line x1="590.09" y1="571.70" x2="590.09" y2="565.50" stroke="#000" stroke-width="2.6" />
<line x1="624.48" y1="571.70" x2="624.48" y2="565.50" stroke="#000" stroke-width="2.6" />
<line x1="648.88" y1="571.70" x2="648.88" y2="565.50" stroke="#000" stroke-width="2.6" />
<line x1="667.81" y1="571.70" x2="667.81" y2="565.50" stroke="#000" stroke-width="2.6" />
<line x1="683.27" y1="571.70" x2="683.27" y2="565.50" stroke="#000" stroke-width="2.6" />
<text transform="translate(84.70,489.70) scale(0.8552,1.0000)" fill="#000"><tspan x="-1.98" y="0.00" font-size="31.50" font-weight="bold" font-style="normal" font-family="Liberation Sans, Arial, Helvetica, sans-serif">1.1</tspan></text>
<text transform="translate(84.70,399.30) scale(0.9570,1.0000)" fill="#000"><tspan x="-1.98" y="0.00" font-size="31.50" font-weight="bold" font-style="normal" font-family="Liberation Sans, Arial, Helvetica, sans-serif">1.2</tspan></text>
<text transform="translate(84.70,308.90) scale(0.9541,1.0000)" fill="#000"><tspan x="-1.98" y="0.00" font-size="31.50" font-weight="bold" font-style="normal" font-family="Liberation Sans, Arial, Helvetica, sans-serif">1.3</tspan></text>
<text transform="translate(84.70,218.50) scale(0.9319,1.0000)" fill="#000"><tspan x="-1.98" y="0.00" font-size="31.50" font-weight="bold" font-style="normal" font-family="Liberation Sans, Arial, Helvetica, sans-serif">1.4</tspan></text>
<text transform="translate(84.70,128.10) scale(0.9480,1.0000)" fill="#000"><tspan x="-1.98" y="0.00" font-size="31.50" font-weight="bold" font-style="normal" font-family="Liberation Sans, Arial, Helvetica, sans-serif">1.5</tspan></text>
<text transform="translate(84.70,37.70) scale(0.9541,1.0000)" fill="#000"><tspan x="-1.98" y="0.00" font-size="31.50" font-weight="bold" font-style="normal" font-family="Liberation Sans, Arial, Helvetica, sans-serif">1.6</tspan></text>
<text transform="translate(120.10,579.70) scale(0.6959,1.0000)" fill="#000"><tspan x="-16.64" y="0.00" font-size="31.50" font-weight="bold" font-style="normal" font-family="Liberation Sans, Arial, Helvetica, sans-serif">1</tspan></text>
<text transform="translate(138.00,607.60) scale(0.8712,1.0000)" fill="#000"><tspan x="-22.08" y="0.00" font-size="31.50" font-weight="bold" font-style="normal" font-family="Liberation Sans, Arial, Helvetica, sans-serif">0.1</tspan></text>
<text transform="translate(334.00,607.60) scale(0.7504,1.0000)" fill="#000"><tspan x="-9.31" y="0.00" font-size="31.50" font-weight="bold" font-style="normal" font-family="Liberation Sans, Arial, Helvetica, sans-serif">1</tspan></text>
<text transform="translate(531.00,607.60) scale(0.9697,1.0000)" fill="#000"><tspan x="-17.86" y="0.00" font-size="31.50" font-weight="bold" font-style="normal" font-family="Liberation Sans, Arial, Helvetica, sans-serif">10</tspan></text>
<text transform="translate(350.80,654.80) scale(1.0027,1.0000)" fill="#000"><tspan x="-0.37" y="0.00" font-size="33.20" font-weight="bold" font-style="normal" font-family="Liberation Sans, Arial, Helvetica, sans-serif">Time (s)</tspan></text>
<text transform="translate(49.90,432.20) rotate(-90) scale(0.9328,1.0000)" fill="#000"><tspan x="-2.11" y="0.00" font-size="31.50" font-weight="bold" font-style="normal" font-family="Liberation Sans, Arial, Helvetica, sans-serif">Fluorescence (A.U.)</tspan></text>
<text transform="translate(0.00,46.70)" fill="#000"><tspan x="-3.19" y="0.00" font-size="64.00" font-weight="bold" font-style="normal" font-family="Liberation Sans, Arial, Helvetica, sans-serif">(a)</tspan></text>
<text transform="translate(150.00,71.10) scale(1.0214,1.0000)" fill="#231f20"><tspan x="-1.91" y="0.00" font-size="28.50" font-weight="bold" font-style="normal" font-family="Liberation Sans, Arial, Helvetica, sans-serif">Burst phase</tspan></text>
<line x1="145.70" y1="99.40" x2="296.50" y2="99.40" stroke="#231f20" stroke-width="2.4" stroke-dasharray="15 15.1" stroke-dashoffset="7.5"/>
<line x1="145.70" y1="411.60" x2="296.50" y2="411.60" stroke="#231f20" stroke-width="2.4" stroke-dasharray="15 15.1" stroke-dashoffset="7.5"/>
<line x1="145.70" y1="99.40" x2="145.70" y2="411.60" stroke="#231f20" stroke-width="2.4" stroke-dasharray="15 15.9" stroke-dashoffset="7.5"/>
<line x1="296.50" y1="99.40" x2="296.50" y2="411.60" stroke="#231f20" stroke-width="2.4" stroke-dasharray="15 15.9" stroke-dashoffset="7.5"/>
<rect x="144.50" y="98.20" width="2.4" height="2.4" fill="#231f20"/>
<rect x="295.30" y="98.20" width="2.4" height="2.4" fill="#231f20"/>
<rect x="144.50" y="410.40" width="2.4" height="2.4" fill="#231f20"/>
<rect x="295.30" y="410.40" width="2.4" height="2.4" fill="#231f20"/>
<text transform="translate(661.80,186.90) scale(0.9576,1.0000)" fill="#231f20"><tspan x="-1.54" y="0.00" font-size="27.50" font-weight="bold" font-style="normal" font-family="Liberation Sans, Arial, Helvetica, sans-serif">[Spy dimer]</tspan></text>
<text transform="translate(710.10,218.50) scale(1.0103,1.0000)" fill="#231f20"><tspan x="-1.34" y="0.00" font-size="26.90" font-weight="bold" font-style="normal" font-family="Liberation Sans, Arial, Helvetica, sans-serif">(</tspan><tspan x="7.62" y="0.00" font-size="26.90" font-weight="normal" font-style="normal" font-family="Liberation Serif, Times New Roman, serif">μ</tspan><tspan x="22.04" y="0.00" font-size="26.90" font-weight="bold" font-style="normal" font-family="Liberation Sans, Arial, Helvetica, sans-serif">M)</tspan></text>
<line x1="701.60" y1="233.60" x2="765.10" y2="233.60" stroke="#231f20" stroke-width="2.0" stroke-dasharray="7.5 6.0" stroke-dashoffset="3.75"/>
<line x1="701.60" y1="418.00" x2="765.10" y2="418.00" stroke="#231f20" stroke-width="2.0" stroke-dasharray="7.5 6.0" stroke-dashoffset="3.75"/>
<line x1="701.60" y1="233.60" x2="701.60" y2="418.00" stroke="#231f20" stroke-width="2.0" stroke-dasharray="7.5 6.0" stroke-dashoffset="3.75"/>
<line x1="765.10" y1="233.60" x2="765.10" y2="418.00" stroke="#231f20" stroke-width="2.0" stroke-dasharray="7.5 6.0" stroke-dashoffset="3.75"/>
<rect x="700.60" y="232.60" width="2.0" height="2.0" fill="#231f20"/>
<rect x="764.10" y="232.60" width="2.0" height="2.0" fill="#231f20"/>
<rect x="700.60" y="417.00" width="2.0" height="2.0" fill="#231f20"/>
<rect x="764.10" y="417.00" width="2.0" height="2.0" fill="#231f20"/>
<text transform="translate(714.20,263.70) scale(0.9990,1.0000)" fill="#da2027"><tspan x="-1.15" y="0.00" font-size="29.20" font-weight="bold" font-style="normal" font-family="Liberation Sans, Arial, Helvetica, sans-serif">0.0</tspan></text>
<text transform="translate(707.00,298.70) scale(1.0036,1.0000)" fill="#3a4da8"><tspan x="-1.84" y="0.00" font-size="29.20" font-weight="bold" font-style="normal" font-family="Liberation Sans, Arial, Helvetica, sans-serif">13.7</tspan></text>
<text transform="translate(706.00,333.10) scale(0.9917,1.0000)" fill="#c8652a"><tspan x="-1.01" y="0.00" font-size="29.20" font-weight="bold" font-style="normal" font-family="Liberation Sans, Arial, Helvetica, sans-serif">27.4</tspan></text>
<text transform="translate(706.00,368.10) scale(0.9981,1.0000)" fill="#0a8a4a"><tspan x="-0.44" y="0.00" font-size="29.20" font-weight="bold" font-style="normal" font-family="Liberation Sans, Arial, Helvetica, sans-serif">45.7</tspan></text>
<text transform="translate(706.40,402.50) scale(0.9903,1.0000)" fill="#dd2288"><tspan x="-0.90" y="0.00" font-size="29.20" font-weight="bold" font-style="normal" font-family="Liberation Sans, Arial, Helvetica, sans-serif">54.8</tspan></text>
<line x1="931.40" y1="46.50" x2="931.40" y2="572.60" stroke="#000" stroke-width="3.2" />
<line x1="929.80" y1="571.10" x2="1527.00" y2="571.10" stroke="#000" stroke-width="3.2" />
<line x1="931.40" y1="496.40" x2="938.20" y2="496.40" stroke="#000" stroke-width="3" />
<line x1="931.40" y1="421.70" x2="938.20" y2="421.70" stroke="#000" stroke-width="3" />
<line x1="931.40" y1="347.00" x2="938.20" y2="347.00" stroke="#000" stroke-width="3" />
<line x1="931.40" y1="272.30" x2="938.20" y2="272.30" stroke="#000" stroke-width="3" />
<line x1="931.40" y1="197.60" x2="938.20" y2="197.60" stroke="#000" stroke-width="3" />
<line x1="931.40" y1="122.90" x2="938.20" y2="122.90" stroke="#000" stroke-width="3" />
<line x1="931.40" y1="48.20" x2="938.20" y2="48.20" stroke="#000" stroke-width="3" />
<line x1="990.81" y1="571.10" x2="990.81" y2="563.50" stroke="#000" stroke-width="2.8" />
<line x1="1050.22" y1="571.10" x2="1050.22" y2="563.50" stroke="#000" stroke-width="2.8" />
<line x1="1109.63" y1="571.10" x2="1109.63" y2="563.50" stroke="#000" stroke-width="2.8" />
<line x1="1169.04" y1="571.10" x2="1169.04" y2="563.50" stroke="#000" stroke-width="2.8" />
<line x1="1228.45" y1="571.10" x2="1228.45" y2="563.50" stroke="#000" stroke-width="2.8" />
<line x1="1287.86" y1="571.10" x2="1287.86" y2="563.50" stroke="#000" stroke-width="2.8" />
<line x1="1347.27" y1="571.10" x2="1347.27" y2="563.50" stroke="#000" stroke-width="2.8" />
<line x1="1406.68" y1="571.10" x2="1406.68" y2="563.50" stroke="#000" stroke-width="2.8" />
<line x1="1466.09" y1="571.10" x2="1466.09" y2="563.50" stroke="#000" stroke-width="2.8" />
<line x1="1525.50" y1="571.10" x2="1525.50" y2="563.50" stroke="#000" stroke-width="2.8" />
<path d="M940.2 322.4H1026.3" fill="none" stroke="#000" stroke-width="3.2" stroke-dasharray="17.5 10.7"/>
<path d="M1026.3 322.4V571" fill="none" stroke="#000" stroke-width="3.2" stroke-dasharray="17 11.15" stroke-dashoffset="14.95"/>
<path d="M931.4 571.1L934.4 555.9L937.4 541.7L940.4 528.2L943.3 515.5L946.3 503.5L949.3 492.1L952.3 481.3L955.3 471.1L958.3 461.3L961.3 452.1L964.2 443.2L967.2 434.8L970.2 426.7L973.2 419L976.2 411.7L979.2 404.6L982.2 397.8L985.1 391.3L988.1 385L991.1 379L994.1 373.3L997.1 367.7L1000.1 362.3L1003.1 357.2L1006 352.2L1009 347.4L1012 342.7L1015 338.2L1018 333.9L1021 329.7L1023.9 325.6L1026.9 321.6L1029.9 317.8L1032.9 314.1L1035.9 310.5L1038.9 307L1041.9 303.6L1044.8 300.3L1047.8 297.1L1050.8 294L1053.8 291L1056.8 288.1L1059.8 285.2L1062.8 282.4L1065.7 279.7L1068.7 277.1L1071.7 274.5L1074.7 272L1077.7 269.5L1080.7 267.1L1083.7 264.8L1086.6 262.5L1089.6 260.3L1092.6 258.1L1095.6 256L1098.6 253.9L1101.6 251.9L1104.6 249.9L1107.5 248L1110.5 246.1L1113.5 244.2L1116.5 242.4L1119.5 240.6L1122.5 238.9L1125.5 237.2L1128.4 235.5L1131.4 233.9L1134.4 232.3L1137.4 230.7L1140.4 229.2L1143.4 227.7L1146.4 226.2L1149.3 224.7L1152.3 223.3L1155.3 221.9L1158.3 220.5L1161.3 219.2L1164.3 217.9L1167.2 216.6L1170.2 215.3L1173.2 214L1176.2 212.8L1179.2 211.6L1182.2 210.4L1185.2 209.3L1188.1 208.1L1191.1 207L1194.1 205.9L1197.1 204.8L1200.1 203.7L1203.1 202.6L1206.1 201.6L1209 200.6L1212 199.6L1215 198.6L1218 197.6L1221 196.7L1224 195.7L1227 194.8L1229.9 193.9L1232.9 193L1235.9 192.1L1238.9 191.2L1241.9 190.3L1244.9 189.5L1247.9 188.6L1250.8 187.8L1253.8 187L1256.8 186.2L1259.8 185.4L1262.8 184.6L1265.8 183.9L1268.8 183.1L1271.7 182.4L1274.7 181.6L1277.7 180.9L1280.7 180.2L1283.7 179.5L1286.7 178.8L1289.7 178.1L1292.6 177.4L1295.6 176.7L1298.6 176.1L1301.6 175.4L1304.6 174.8L1307.6 174.1L1310.5 173.5L1313.5 172.9L1316.5 172.2L1319.5 171.6L1322.5 171L1325.5 170.4L1328.5 169.9L1331.4 169.3L1334.4 168.7L1337.4 168.1L1340.4 167.6L1343.4 167L1346.4 166.5L1349.4 166L1352.3 165.4L1355.3 164.9L1358.3 164.4L1361.3 163.9L1364.3 163.4L1367.3 162.9L1370.3 162.4L1373.2 161.9L1376.2 161.4L1379.2 160.9L1382.2 160.4L1385.2 160L1388.2 159.5L1391.2 159L1394.1 158.6L1397.1 158.1L1400.1 157.7L1403.1 157.2L1406.1 156.8L1409.1 156.4L1412.1 155.9L1415 155.5L1418 155.1L1421 154.7L1424 154.3L1427 153.9L1430 153.5L1433 153.1L1435.9 152.7L1438.9 152.3L1441.9 151.9L1444.9 151.5L1447.9 151.1L1450.9 150.8L1453.8 150.4L1456.8 150L1459.8 149.7L1462.8 149.3L1465.8 148.9L1468.8 148.6L1471.8 148.2L1474.7 147.9L1477.7 147.6L1480.7 147.2L1483.7 146.9L1486.7 146.5L1489.7 146.2L1492.7 145.9L1495.6 145.6L1498.6 145.2L1501.6 144.9L1504.6 144.6L1507.6 144.3L1510.6 144L1513.6 143.7L1516.5 143.4L1519.5 143.1L1522.5 142.8L1525.5 142.5" fill="none" stroke="#000" stroke-width="3.2" />
<g fill="#d9252b"><circle cx="931.5" cy="571.1" r="6.7"/><circle cx="941.6" cy="529.6" r="6.7"/><circle cx="950.9" cy="500.3" r="6.7"/><circle cx="960.2" cy="462.0" r="6.7"/><circle cx="970.2" cy="438.0" r="6.7"/><circle cx="979.7" cy="414.8" r="6.7"/><circle cx="988.5" cy="383.4" r="6.7"/><circle cx="997.6" cy="362.8" r="6.7"/><circle cx="1006.6" cy="352.8" r="6.7"/><circle cx="1015.4" cy="336.2" r="6.7"/><circle cx="1024.2" cy="331.2" r="6.7"/><circle cx="1032.5" cy="311.3" r="6.7"/><circle cx="1041.3" cy="293.5" r="6.7"/><circle cx="1050.1" cy="294.2" r="6.7"/><circle cx="1061.9" cy="274.4" r="6.7"/><circle cx="1071.5" cy="266.1" r="6.7"/><circle cx="1089.5" cy="257.8" r="6.7"/><circle cx="1116.1" cy="235.9" r="6.7"/><circle cx="1138.9" cy="229.7" r="6.7"/><circle cx="1160.6" cy="223.8" r="6.7"/><circle cx="1182.8" cy="213.3" r="6.7"/><circle cx="1204.5" cy="205.3" r="6.7"/><circle cx="1248.0" cy="192.6" r="6.7"/><circle cx="1290.7" cy="183.6" r="6.7"/><circle cx="1332.7" cy="172.5" r="6.7"/><circle cx="1374.4" cy="158.6" r="6.7"/><circle cx="1454.5" cy="156.4" r="6.7"/><circle cx="1494.0" cy="137.0" r="6.7"/></g>
<text transform="translate(914.40,578.40) scale(0.9600,1.0000)" fill="#000"><tspan x="-17.00" y="0.00" font-size="33.00" font-weight="bold" font-style="normal" font-family="Liberation Sans, Arial, Helvetica, sans-serif">0</tspan></text>
<text transform="translate(915.80,503.70) scale(0.9600,1.0000)" fill="#000"><tspan x="-63.31" y="0.00" font-size="33.00" font-weight="bold" font-style="normal" font-family="Liberation Sans, Arial, Helvetica, sans-serif">0.05</tspan></text>
<text transform="translate(913.20,429.00) scale(0.9600,1.0000)" fill="#000"><tspan x="-44.96" y="0.00" font-size="33.00" font-weight="bold" font-style="normal" font-family="Liberation Sans, Arial, Helvetica, sans-serif">0.1</tspan></text>
<text transform="translate(915.80,354.30) scale(0.9600,1.0000)" fill="#000"><tspan x="-63.31" y="0.00" font-size="33.00" font-weight="bold" font-style="normal" font-family="Liberation Sans, Arial, Helvetica, sans-serif">0.15</tspan></text>
<text transform="translate(915.80,279.60) scale(0.9600,1.0000)" fill="#000"><tspan x="-44.55" y="0.00" font-size="33.00" font-weight="bold" font-style="normal" font-family="Liberation Sans, Arial, Helvetica, sans-serif">0.2</tspan></text>
<text transform="translate(915.80,204.90) scale(0.9600,1.0000)" fill="#000"><tspan x="-63.31" y="0.00" font-size="33.00" font-weight="bold" font-style="normal" font-family="Liberation Sans, Arial, Helvetica, sans-serif">0.25</tspan></text>
<text transform="translate(915.80,130.20) scale(0.9600,1.0000)" fill="#000"><tspan x="-44.68" y="0.00" font-size="33.00" font-weight="bold" font-style="normal" font-family="Liberation Sans, Arial, Helvetica, sans-serif">0.3</tspan></text>
<text transform="translate(915.80,55.50) scale(0.9600,1.0000)" fill="#000"><tspan x="-63.31" y="0.00" font-size="33.00" font-weight="bold" font-style="normal" font-family="Liberation Sans, Arial, Helvetica, sans-serif">0.35</tspan></text>
<text transform="translate(931.40,610.20) scale(0.9500,1.0000)" fill="#000"><tspan x="-9.15" y="0.00" font-size="33.00" font-weight="bold" font-style="normal" font-family="Liberation Sans, Arial, Helvetica, sans-serif">0</tspan></text>
<text transform="translate(1050.22,610.20) scale(0.9500,1.0000)" fill="#000"><tspan x="-18.18" y="0.00" font-size="33.00" font-weight="bold" font-style="normal" font-family="Liberation Sans, Arial, Helvetica, sans-serif">50</tspan></text>
<text transform="translate(1169.04,610.20) scale(0.9500,1.0000)" fill="#000"><tspan x="-27.89" y="0.00" font-size="33.00" font-weight="bold" font-style="normal" font-family="Liberation Sans, Arial, Helvetica, sans-serif">100</tspan></text>
<text transform="translate(1287.86,610.20) scale(0.9500,1.0000)" fill="#000"><tspan x="-27.89" y="0.00" font-size="33.00" font-weight="bold" font-style="normal" font-family="Liberation Sans, Arial, Helvetica, sans-serif">150</tspan></text>
<text transform="translate(1406.68,610.20) scale(0.9500,1.0000)" fill="#000"><tspan x="-27.42" y="0.00" font-size="33.00" font-weight="bold" font-style="normal" font-family="Liberation Sans, Arial, Helvetica, sans-serif">200</tspan></text>
<text transform="translate(1525.50,610.20) scale(0.9500,1.0000)" fill="#000"><tspan x="-27.42" y="0.00" font-size="33.00" font-weight="bold" font-style="normal" font-family="Liberation Sans, Arial, Helvetica, sans-serif">250</tspan></text>
<text transform="translate(1107.80,646.30) scale(1.0434,1.0000)" fill="#000"><tspan x="-1.71" y="0.00" font-size="30.50" font-weight="bold" font-style="normal" font-family="Liberation Sans, Arial, Helvetica, sans-serif">[Spy dimer] (</tspan><tspan x="184.70" y="0.00" font-size="30.50" font-weight="normal" font-style="normal" font-family="Liberation Serif, Times New Roman, serif">μ</tspan><tspan x="201.05" y="0.00" font-size="30.50" font-weight="bold" font-style="normal" font-family="Liberation Sans, Arial, Helvetica, sans-serif">M)</tspan></text>
<text transform="translate(827.00,394.20) rotate(-90) scale(0.9603,1.0000)" fill="#000"><tspan x="-1.79" y="0.00" font-size="36.00" font-weight="bold" font-style="normal" font-family="Liberation Sans, Arial, Helvetica, sans-serif">(F</tspan><tspan x="32.19" y="18.00" font-size="24.60" font-weight="bold" font-style="normal" font-family="Liberation Sans, Arial, Helvetica, sans-serif">0</tspan><tspan x="45.87" y="0.00" font-size="36.00" font-weight="bold" font-style="normal" font-family="Liberation Sans, Arial, Helvetica, sans-serif"> - F) / F</tspan><tspan x="163.83" y="18.00" font-size="24.60" font-weight="bold" font-style="normal" font-family="Liberation Sans, Arial, Helvetica, sans-serif">0</tspan></text>
<text transform="translate(777.50,46.70)" fill="#000"><tspan x="-3.19" y="0.00" font-size="64.00" font-weight="bold" font-style="normal" font-family="Liberation Sans, Arial, Helvetica, sans-serif">(b)</tspan></text>
<text transform="translate(1042.40,449.50) scale(0.9169,1.0000)" fill="#231f20"><tspan x="-0.57" y="0.00" font-size="32.50" font-weight="bold" font-style="italic" font-family="Liberation Sans, Arial, Helvetica, sans-serif">K</tspan></text>
<text transform="translate(1066.30,457.00) scale(1.0495,1.0000)" fill="#231f20"><tspan x="-1.35" y="0.00" font-size="20.20" font-weight="bold" font-style="normal" font-family="Liberation Sans, Arial, Helvetica, sans-serif">D,app</tspan></text>
<text transform="translate(1135.70,449.50) scale(0.9542,1.0000)" fill="#231f20"><tspan x="-1.35" y="0.00" font-size="32.50" font-weight="bold" font-style="normal" font-family="Liberation Sans, Arial, Helvetica, sans-serif">= 39.9 ± 1.1</tspan></text>
<text transform="translate(1313.00,449.50) scale(1.1147,1.0000)" fill="#231f20"><tspan x="-2.63" y="0.00" font-size="32.50" font-weight="normal" font-style="normal" font-family="Liberation Serif, Times New Roman, serif">μ</tspan></text>
<text transform="translate(1330.00,449.50) scale(1.0649,1.0000)" fill="#231f20"><tspan x="-2.17" y="0.00" font-size="32.50" font-weight="bold" font-style="normal" font-family="Liberation Sans, Arial, Helvetica, sans-serif">M</tspan></text>
<defs><radialGradient id="bc1" cx="0.5" cy="0.5" r="0.5"><stop offset="0.000" stop-color="#da2826" stop-opacity="1.000"/><stop offset="0.021" stop-color="#dd2926" stop-opacity="1.000"/><stop offset="0.042" stop-color="#de2c27" stop-opacity="1.000"/><stop offset="0.062" stop-color="#df2e27" stop-opacity="1.000"/><stop offset="0.083" stop-color="#e02d2f" stop-opacity="1.000"/><stop offset="0.104" stop-color="#e1283d" stop-opacity="1.000"/><stop offset="0.125" stop-color="#e32152" stop-opacity="1.000"/><stop offset="0.146" stop-color="#e41f6b" stop-opacity="1.000"/><stop offset="0.167" stop-color="#e62784" stop-opacity="1.000"/><stop offset="0.188" stop-color="#e53892" stop-opacity="1.000"/><stop offset="0.208" stop-color="#dd4596" stop-opacity="1.000"/><stop offset="0.229" stop-color="#d04999" stop-opacity="1.000"/><stop offset="0.250" stop-color="#c04c9c" stop-opacity="1.000"/><stop offset="0.271" stop-color="#ab4f9c" stop-opacity="1.000"/><stop offset="0.292" stop-color="#9a53a0" stop-opacity="1.000"/><stop offset="0.312" stop-color="#8a58a6" stop-opacity="1.000"/><stop offset="0.333" stop-color="#7a64b0" stop-opacity="1.000"/><stop offset="0.354" stop-color="#6f76bc" stop-opacity="1.000"/><stop offset="0.375" stop-color="#6b8ec9" stop-opacity="1.000"/><stop offset="0.396" stop-color="#66a3d3" stop-opacity="1.000"/><stop offset="0.417" stop-color="#64b0db" stop-opacity="1.000"/><stop offset="0.438" stop-color="#63bae0" stop-opacity="1.000"/><stop offset="0.458" stop-color="#65bcdf" stop-opacity="1.000"/><stop offset="0.479" stop-color="#66bedf" stop-opacity="1.000"/><stop offset="0.500" stop-color="#67c0de" stop-opacity="1.000"/><stop offset="0.521" stop-color="#68c2de" stop-opacity="1.000"/><stop offset="0.542" stop-color="#6ac4dd" stop-opacity="1.000"/><stop offset="0.562" stop-color="#6cc5dc" stop-opacity="1.000"/><stop offset="0.583" stop-color="#6ec7db" stop-opacity="1.000"/><stop offset="0.604" stop-color="#72c9da" stop-opacity="1.000"/><stop offset="0.625" stop-color="#81cddc" stop-opacity="1.000"/><stop offset="0.646" stop-color="#8fd1de" stop-opacity="1.000"/><stop offset="0.667" stop-color="#9cd5e0" stop-opacity="1.000"/><stop offset="0.688" stop-color="#acdbe4" stop-opacity="1.000"/><stop offset="0.708" stop-color="#bee3ea" stop-opacity="1.000"/><stop offset="0.729" stop-color="#ceeaef" stop-opacity="0.812"/><stop offset="0.750" stop-color="#d7eef2" stop-opacity="0.683"/><stop offset="0.771" stop-color="#ddf0f4" stop-opacity="0.554"/><stop offset="0.792" stop-color="#e3f2f5" stop-opacity="0.425"/><stop offset="0.812" stop-color="#e8f4f7" stop-opacity="0.318"/><stop offset="0.833" stop-color="#eaf5f7" stop-opacity="0.264"/><stop offset="0.854" stop-color="#edf6f8" stop-opacity="0.210"/><stop offset="0.875" stop-color="#eff6f9" stop-opacity="0.156"/><stop offset="0.896" stop-color="#f1f7fa" stop-opacity="0.102"/><stop offset="0.917" stop-color="#f3f8fa" stop-opacity="0.072"/><stop offset="0.938" stop-color="#f4f8fa" stop-opacity="0.054"/><stop offset="0.958" stop-color="#f4f8fb" stop-opacity="0.036"/><stop offset="0.979" stop-color="#f5f9fb" stop-opacity="0.018"/><stop offset="1.000" stop-color="#f6f9fb" stop-opacity="0.000"/></radialGradient></defs>
<ellipse cx="363.90" cy="720.30" rx="27.90" ry="30.97" fill="url(#bc1)"/>
<defs><radialGradient id="bc2" cx="0.5" cy="0.5" r="0.5"><stop offset="0.000" stop-color="#0d0b0b" stop-opacity="1.000"/><stop offset="0.021" stop-color="#130b0b" stop-opacity="1.000"/><stop offset="0.042" stop-color="#210d0d" stop-opacity="1.000"/><stop offset="0.062" stop-color="#441010" stop-opacity="1.000"/><stop offset="0.083" stop-color="#7e1818" stop-opacity="1.000"/><stop offset="0.104" stop-color="#b22121" stop-opacity="1.000"/><stop offset="0.125" stop-color="#dc2826" stop-opacity="1.000"/><stop offset="0.146" stop-color="#df2e27" stop-opacity="1.000"/><stop offset="0.167" stop-color="#e02e2d" stop-opacity="1.000"/><stop offset="0.188" stop-color="#e12740" stop-opacity="1.000"/><stop offset="0.208" stop-color="#e41e61" stop-opacity="1.000"/><stop offset="0.229" stop-color="#e62b8b" stop-opacity="1.000"/><stop offset="0.250" stop-color="#df4396" stop-opacity="1.000"/><stop offset="0.271" stop-color="#cd4a9a" stop-opacity="1.000"/><stop offset="0.292" stop-color="#ba4d9c" stop-opacity="1.000"/><stop offset="0.312" stop-color="#a6509d" stop-opacity="1.000"/><stop offset="0.333" stop-color="#9454a2" stop-opacity="1.000"/><stop offset="0.354" stop-color="#865ba8" stop-opacity="1.000"/><stop offset="0.375" stop-color="#7767b2" stop-opacity="1.000"/><stop offset="0.396" stop-color="#6e79be" stop-opacity="1.000"/><stop offset="0.417" stop-color="#6a91cb" stop-opacity="1.000"/><stop offset="0.438" stop-color="#66a6d5" stop-opacity="1.000"/><stop offset="0.458" stop-color="#63b5de" stop-opacity="1.000"/><stop offset="0.479" stop-color="#64bbdf" stop-opacity="1.000"/><stop offset="0.500" stop-color="#66bedf" stop-opacity="1.000"/><stop offset="0.521" stop-color="#67c1de" stop-opacity="1.000"/><stop offset="0.542" stop-color="#69c3de" stop-opacity="1.000"/><stop offset="0.562" stop-color="#6bc4dc" stop-opacity="1.000"/><stop offset="0.583" stop-color="#6dc6db" stop-opacity="1.000"/><stop offset="0.604" stop-color="#70c8da" stop-opacity="1.000"/><stop offset="0.625" stop-color="#7cccdc" stop-opacity="1.000"/><stop offset="0.646" stop-color="#8bd0dd" stop-opacity="1.000"/><stop offset="0.667" stop-color="#99d4df" stop-opacity="1.000"/><stop offset="0.688" stop-color="#a6d9e2" stop-opacity="1.000"/><stop offset="0.708" stop-color="#b8e0e8" stop-opacity="1.000"/><stop offset="0.729" stop-color="#cae8ee" stop-opacity="0.873"/><stop offset="0.750" stop-color="#d5edf1" stop-opacity="0.714"/><stop offset="0.771" stop-color="#dcf0f3" stop-opacity="0.573"/><stop offset="0.792" stop-color="#e3f2f5" stop-opacity="0.433"/><stop offset="0.812" stop-color="#e8f4f7" stop-opacity="0.318"/><stop offset="0.833" stop-color="#eaf5f7" stop-opacity="0.264"/><stop offset="0.854" stop-color="#edf6f8" stop-opacity="0.210"/><stop offset="0.875" stop-color="#eff6f9" stop-opacity="0.156"/><stop offset="0.896" stop-color="#f1f7fa" stop-opacity="0.102"/><stop offset="0.917" stop-color="#f3f8fa" stop-opacity="0.072"/><stop offset="0.938" stop-color="#f4f8fa" stop-opacity="0.054"/><stop offset="0.958" stop-color="#f4f8fb" stop-opacity="0.036"/><stop offset="0.979" stop-color="#f5f9fb" stop-opacity="0.018"/><stop offset="1.000" stop-color="#f6f9fb" stop-opacity="0.000"/></radialGradient></defs>
<ellipse cx="378.90" cy="1182.90" rx="29.45" ry="33.57" fill="url(#bc2)"/>
<line x1="145.70" y1="662.60" x2="145.70" y2="1303.60" stroke="#000" stroke-width="2.8" />
<line x1="144.30" y1="1302.30" x2="734.00" y2="1302.30" stroke="#000" stroke-width="2.8" />
<line x1="142.00" y1="1278.56" x2="145.70" y2="1278.56" stroke="#000" stroke-width="2.0" />
<line x1="142.00" y1="1246.21" x2="145.70" y2="1246.21" stroke="#000" stroke-width="2.0" />
<line x1="142.00" y1="1213.87" x2="145.70" y2="1213.87" stroke="#000" stroke-width="2.0" />
<line x1="142.00" y1="1181.52" x2="145.70" y2="1181.52" stroke="#000" stroke-width="2.0" />
<line x1="142.00" y1="1149.17" x2="145.70" y2="1149.17" stroke="#000" stroke-width="2.0" />
<line x1="142.00" y1="1116.83" x2="145.70" y2="1116.83" stroke="#000" stroke-width="2.0" />
<line x1="142.00" y1="1084.49" x2="145.70" y2="1084.49" stroke="#000" stroke-width="2.0" />
<line x1="142.00" y1="1052.14" x2="145.70" y2="1052.14" stroke="#000" stroke-width="2.0" />
<line x1="142.00" y1="1019.80" x2="145.70" y2="1019.80" stroke="#000" stroke-width="2.0" />
<line x1="142.00" y1="987.45" x2="145.70" y2="987.45" stroke="#000" stroke-width="2.0" />
<line x1="142.00" y1="955.11" x2="145.70" y2="955.11" stroke="#000" stroke-width="2.0" />
<line x1="142.00" y1="922.76" x2="145.70" y2="922.76" stroke="#000" stroke-width="2.0" />
<line x1="142.00" y1="890.41" x2="145.70" y2="890.41" stroke="#000" stroke-width="2.0" />
<line x1="142.00" y1="858.07" x2="145.70" y2="858.07" stroke="#000" stroke-width="2.0" />
<line x1="142.00" y1="825.73" x2="145.70" y2="825.73" stroke="#000" stroke-width="2.0" />
<line x1="142.00" y1="793.38" x2="145.70" y2="793.38" stroke="#000" stroke-width="2.0" />
<line x1="142.00" y1="761.04" x2="145.70" y2="761.04" stroke="#000" stroke-width="2.0" />
<line x1="142.00" y1="728.69" x2="145.70" y2="728.69" stroke="#000" stroke-width="2.0" />
<line x1="142.00" y1="696.35" x2="145.70" y2="696.35" stroke="#000" stroke-width="2.0" />
<line x1="142.00" y1="664.00" x2="145.70" y2="664.00" stroke="#000" stroke-width="2.0" />
<line x1="173.78" y1="1302.30" x2="173.78" y2="1306.70" stroke="#000" stroke-width="2.0" />
<line x1="202.70" y1="1302.30" x2="202.70" y2="1306.70" stroke="#000" stroke-width="2.0" />
<line x1="231.62" y1="1302.30" x2="231.62" y2="1306.70" stroke="#000" stroke-width="2.0" />
<line x1="260.54" y1="1302.30" x2="260.54" y2="1306.70" stroke="#000" stroke-width="2.0" />
<line x1="289.46" y1="1302.30" x2="289.46" y2="1306.70" stroke="#000" stroke-width="2.0" />
<line x1="318.38" y1="1302.30" x2="318.38" y2="1306.70" stroke="#000" stroke-width="2.0" />
<line x1="347.30" y1="1302.30" x2="347.30" y2="1306.70" stroke="#000" stroke-width="2.0" />
<line x1="376.22" y1="1302.30" x2="376.22" y2="1306.70" stroke="#000" stroke-width="2.0" />
<line x1="405.14" y1="1302.30" x2="405.14" y2="1306.70" stroke="#000" stroke-width="2.0" />
<line x1="434.06" y1="1302.30" x2="434.06" y2="1306.70" stroke="#000" stroke-width="2.0" />
<line x1="462.98" y1="1302.30" x2="462.98" y2="1306.70" stroke="#000" stroke-width="2.0" />
<line x1="491.90" y1="1302.30" x2="491.90" y2="1306.70" stroke="#000" stroke-width="2.0" />
<line x1="520.82" y1="1302.30" x2="520.82" y2="1306.70" stroke="#000" stroke-width="2.0" />
<line x1="549.74" y1="1302.30" x2="549.74" y2="1306.70" stroke="#000" stroke-width="2.0" />
<line x1="578.66" y1="1302.30" x2="578.66" y2="1306.70" stroke="#000" stroke-width="2.0" />
<line x1="607.58" y1="1302.30" x2="607.58" y2="1306.70" stroke="#000" stroke-width="2.0" />
<line x1="636.50" y1="1302.30" x2="636.50" y2="1306.70" stroke="#000" stroke-width="2.0" />
<line x1="665.42" y1="1302.30" x2="665.42" y2="1306.70" stroke="#000" stroke-width="2.0" />
<line x1="694.34" y1="1302.30" x2="694.34" y2="1306.70" stroke="#000" stroke-width="2.0" />
<line x1="723.26" y1="1302.30" x2="723.26" y2="1306.70" stroke="#000" stroke-width="2.0" />
<text transform="translate(136.00,1060.14) scale(0.9700,1.0000)" fill="#000"><tspan x="-28.89" y="0.00" font-size="21.40" font-weight="bold" font-style="normal" font-family="Liberation Sans, Arial, Helvetica, sans-serif">1.2</tspan></text>
<text transform="translate(136.00,930.76) scale(0.9700,1.0000)" fill="#000"><tspan x="-29.63" y="0.00" font-size="21.40" font-weight="bold" font-style="normal" font-family="Liberation Sans, Arial, Helvetica, sans-serif">1.4</tspan></text>
<text transform="translate(136.00,801.38) scale(0.9700,1.0000)" fill="#000"><tspan x="-28.98" y="0.00" font-size="21.40" font-weight="bold" font-style="normal" font-family="Liberation Sans, Arial, Helvetica, sans-serif">1.6</tspan></text>
<text transform="translate(136.00,672.00) scale(0.9700,1.0000)" fill="#000"><tspan x="-29.09" y="0.00" font-size="21.40" font-weight="bold" font-style="normal" font-family="Liberation Sans, Arial, Helvetica, sans-serif">1.8</tspan></text>
<text transform="translate(128.80,1188.70) scale(0.6929,1.0000)" fill="#000"><tspan x="-11.31" y="0.00" font-size="21.40" font-weight="bold" font-style="normal" font-family="Liberation Sans, Arial, Helvetica, sans-serif">1</tspan></text>
<text transform="translate(206.00,1329.50) scale(0.9700,1.0000)" fill="#000"><tspan x="-15.25" y="0.00" font-size="21.40" font-weight="bold" font-style="normal" font-family="Liberation Sans, Arial, Helvetica, sans-serif">1.5</tspan></text>
<text transform="translate(347.50,1329.50) scale(0.9700,1.0000)" fill="#000"><tspan x="-5.89" y="0.00" font-size="21.40" font-weight="bold" font-style="normal" font-family="Liberation Sans, Arial, Helvetica, sans-serif">2</tspan></text>
<text transform="translate(493.90,1329.50) scale(0.9700,1.0000)" fill="#000"><tspan x="-14.95" y="0.00" font-size="21.40" font-weight="bold" font-style="normal" font-family="Liberation Sans, Arial, Helvetica, sans-serif">2.5</tspan></text>
<text transform="translate(635.70,1329.50) scale(0.9700,1.0000)" fill="#000"><tspan x="-5.81" y="0.00" font-size="21.40" font-weight="bold" font-style="normal" font-family="Liberation Sans, Arial, Helvetica, sans-serif">3</tspan></text>
<text transform="translate(114.00,1354.10) scale(1.0098,1.0000)" fill="#000"><tspan x="-0.73" y="0.00" font-size="25.30" font-weight="bold" font-style="normal" font-family="Liberation Sans, Arial, Helvetica, sans-serif">Sedimentation Coefficient (1e-13) in water at 20°C</tspan></text>
<text transform="translate(94.90,1094.00) rotate(-90) scale(0.9706,1.0000)" fill="#000"><tspan x="-1.97" y="0.00" font-size="29.50" font-weight="bold" font-style="normal" font-family="Liberation Sans, Arial, Helvetica, sans-serif">Frictional Ratio f/f</tspan><tspan x="248.78" y="9.90" font-size="16.50" font-weight="bold" font-style="normal" font-family="Liberation Sans, Arial, Helvetica, sans-serif">0</tspan></text>
<text transform="translate(0.00,687.00)" fill="#000"><tspan x="-3.19" y="0.00" font-size="64.00" font-weight="bold" font-style="normal" font-family="Liberation Sans, Arial, Helvetica, sans-serif">(c)</tspan></text>
<defs><linearGradient id="gc" x1="0" y1="0" x2="0" y2="1"><stop offset="0.0000" stop-color="#0d0b0b"/><stop offset="0.0125" stop-color="#130b0b"/><stop offset="0.0250" stop-color="#1a0c0c"/><stop offset="0.0375" stop-color="#240e0e"/><stop offset="0.0500" stop-color="#2f0f0f"/><stop offset="0.0625" stop-color="#3d1010"/><stop offset="0.0750" stop-color="#4e1010"/><stop offset="0.0875" stop-color="#621313"/><stop offset="0.1000" stop-color="#791717"/><stop offset="0.1125" stop-color="#8f1b1b"/><stop offset="0.1250" stop-color="#9e1e1e"/><stop offset="0.1375" stop-color="#af2121"/><stop offset="0.1500" stop-color="#c32323"/><stop offset="0.1625" stop-color="#d12625"/><stop offset="0.1750" stop-color="#dc2826"/><stop offset="0.1875" stop-color="#de2b27"/><stop offset="0.2000" stop-color="#df2e28"/><stop offset="0.2125" stop-color="#e02f2a"/><stop offset="0.2250" stop-color="#e02d2e"/><stop offset="0.2375" stop-color="#e02b33"/><stop offset="0.2500" stop-color="#e02938"/><stop offset="0.2625" stop-color="#e12641"/><stop offset="0.2750" stop-color="#e2234b"/><stop offset="0.2875" stop-color="#e32155"/><stop offset="0.3000" stop-color="#e41e5f"/><stop offset="0.3125" stop-color="#e51f6d"/><stop offset="0.3250" stop-color="#e5217b"/><stop offset="0.3375" stop-color="#e62784"/><stop offset="0.3500" stop-color="#e62d8c"/><stop offset="0.3625" stop-color="#e53490"/><stop offset="0.3750" stop-color="#e43b94"/><stop offset="0.3875" stop-color="#e14095"/><stop offset="0.4000" stop-color="#de4496"/><stop offset="0.4125" stop-color="#da4697"/><stop offset="0.4250" stop-color="#d64898"/><stop offset="0.4375" stop-color="#d14999"/><stop offset="0.4500" stop-color="#cb4a9a"/><stop offset="0.4625" stop-color="#c64b9b"/><stop offset="0.4750" stop-color="#c04c9c"/><stop offset="0.4875" stop-color="#b94d9c"/><stop offset="0.5000" stop-color="#b24e9c"/><stop offset="0.5125" stop-color="#ab509c"/><stop offset="0.5250" stop-color="#a4519d"/><stop offset="0.5375" stop-color="#9e529f"/><stop offset="0.5500" stop-color="#9853a1"/><stop offset="0.5625" stop-color="#9355a3"/><stop offset="0.5750" stop-color="#8e56a4"/><stop offset="0.5875" stop-color="#8a58a6"/><stop offset="0.6000" stop-color="#855ba9"/><stop offset="0.6125" stop-color="#815eab"/><stop offset="0.6250" stop-color="#7d61ae"/><stop offset="0.6375" stop-color="#7965b0"/><stop offset="0.6500" stop-color="#756ab3"/><stop offset="0.6625" stop-color="#726eb6"/><stop offset="0.6750" stop-color="#7073ba"/><stop offset="0.6875" stop-color="#6f78bd"/><stop offset="0.7000" stop-color="#6e7ec0"/><stop offset="0.7125" stop-color="#6d83c3"/><stop offset="0.7250" stop-color="#6c88c6"/><stop offset="0.7375" stop-color="#6b8fc9"/><stop offset="0.7500" stop-color="#6995cd"/><stop offset="0.7625" stop-color="#689cd0"/><stop offset="0.7750" stop-color="#66a2d3"/><stop offset="0.7875" stop-color="#65a8d6"/><stop offset="0.8000" stop-color="#64aeda"/><stop offset="0.8125" stop-color="#63b4de"/><stop offset="0.8250" stop-color="#63b9e0"/><stop offset="0.8375" stop-color="#64bcdf"/><stop offset="0.8500" stop-color="#66bfdf"/><stop offset="0.8625" stop-color="#68c2de"/><stop offset="0.8750" stop-color="#6ac4dd"/><stop offset="0.8875" stop-color="#6dc5dc"/><stop offset="0.9000" stop-color="#6fc7db"/><stop offset="0.9125" stop-color="#77cadb"/><stop offset="0.9250" stop-color="#84cedd"/><stop offset="0.9375" stop-color="#92d2de"/><stop offset="0.9500" stop-color="#a0d6e0"/><stop offset="0.9625" stop-color="#b9e1e8"/><stop offset="0.9750" stop-color="#d2ebf0"/><stop offset="0.9875" stop-color="#e5f3f6"/><stop offset="1.0000" stop-color="#f6f9fb"/></linearGradient></defs>
<rect x="719.40" y="662.90" width="17.60" height="638.10" fill="url(#gc)"/>
<line x1="737.70" y1="662.50" x2="737.70" y2="1301.50" stroke="#000" stroke-width="2.0" />
<line x1="737.70" y1="1300.30" x2="742.30" y2="1300.30" stroke="#000" stroke-width="2.0" />
<line x1="737.70" y1="1282.70" x2="742.30" y2="1282.70" stroke="#000" stroke-width="2.0" />
<line x1="737.70" y1="1265.10" x2="742.30" y2="1265.10" stroke="#000" stroke-width="2.0" />
<line x1="737.70" y1="1247.50" x2="742.30" y2="1247.50" stroke="#000" stroke-width="2.0" />
<line x1="737.70" y1="1229.90" x2="742.30" y2="1229.90" stroke="#000" stroke-width="2.0" />
<line x1="737.70" y1="1212.30" x2="742.30" y2="1212.30" stroke="#000" stroke-width="2.0" />
<line x1="737.70" y1="1194.70" x2="742.30" y2="1194.70" stroke="#000" stroke-width="2.0" />
<line x1="737.70" y1="1177.10" x2="742.30" y2="1177.10" stroke="#000" stroke-width="2.0" />
<line x1="737.70" y1="1159.50" x2="742.30" y2="1159.50" stroke="#000" stroke-width="2.0" />
<line x1="737.70" y1="1141.90" x2="742.30" y2="1141.90" stroke="#000" stroke-width="2.0" />
<line x1="737.70" y1="1124.30" x2="742.30" y2="1124.30" stroke="#000" stroke-width="2.0" />
<line x1="737.70" y1="1106.70" x2="742.30" y2="1106.70" stroke="#000" stroke-width="2.0" />
<line x1="737.70" y1="1089.10" x2="742.30" y2="1089.10" stroke="#000" stroke-width="2.0" />
<line x1="737.70" y1="1071.50" x2="742.30" y2="1071.50" stroke="#000" stroke-width="2.0" />
<line x1="737.70" y1="1053.90" x2="742.30" y2="1053.90" stroke="#000" stroke-width="2.0" />
<line x1="737.70" y1="1036.30" x2="742.30" y2="1036.30" stroke="#000" stroke-width="2.0" />
<line x1="737.70" y1="1018.70" x2="742.30" y2="1018.70" stroke="#000" stroke-width="2.0" />
<line x1="737.70" y1="1001.10" x2="742.30" y2="1001.10" stroke="#000" stroke-width="2.0" />
<line x1="737.70" y1="983.50" x2="742.30" y2="983.50" stroke="#000" stroke-width="2.0" />
<line x1="737.70" y1="965.90" x2="742.30" y2="965.90" stroke="#000" stroke-width="2.0" />
<line x1="737.70" y1="948.30" x2="742.30" y2="948.30" stroke="#000" stroke-width="2.0" />
<line x1="737.70" y1="930.70" x2="742.30" y2="930.70" stroke="#000" stroke-width="2.0" />
<line x1="737.70" y1="913.10" x2="742.30" y2="913.10" stroke="#000" stroke-width="2.0" />
<line x1="737.70" y1="895.50" x2="742.30" y2="895.50" stroke="#000" stroke-width="2.0" />
<line x1="737.70" y1="877.90" x2="742.30" y2="877.90" stroke="#000" stroke-width="2.0" />
<line x1="737.70" y1="860.30" x2="742.30" y2="860.30" stroke="#000" stroke-width="2.0" />
<line x1="737.70" y1="842.70" x2="742.30" y2="842.70" stroke="#000" stroke-width="2.0" />
<line x1="737.70" y1="825.10" x2="742.30" y2="825.10" stroke="#000" stroke-width="2.0" />
<line x1="737.70" y1="807.50" x2="742.30" y2="807.50" stroke="#000" stroke-width="2.0" />
<line x1="737.70" y1="789.90" x2="742.30" y2="789.90" stroke="#000" stroke-width="2.0" />
<line x1="737.70" y1="772.30" x2="742.30" y2="772.30" stroke="#000" stroke-width="2.0" />
<line x1="737.70" y1="754.70" x2="742.30" y2="754.70" stroke="#000" stroke-width="2.0" />
<line x1="737.70" y1="737.10" x2="742.30" y2="737.10" stroke="#000" stroke-width="2.0" />
<line x1="737.70" y1="719.50" x2="742.30" y2="719.50" stroke="#000" stroke-width="2.0" />
<line x1="737.70" y1="701.90" x2="742.30" y2="701.90" stroke="#000" stroke-width="2.0" />
<line x1="737.70" y1="684.30" x2="742.30" y2="684.30" stroke="#000" stroke-width="2.0" />
<line x1="737.70" y1="666.70" x2="742.30" y2="666.70" stroke="#000" stroke-width="2.0" />
<text transform="translate(745.90,1302.10)" fill="#000"><tspan x="-0.81" y="0.00" font-size="20.50" font-weight="bold" font-style="normal" font-family="Liberation Sans, Arial, Helvetica, sans-serif">0.0</tspan></text>
<text transform="translate(745.90,1214.10)" fill="#000"><tspan x="-0.81" y="0.00" font-size="20.50" font-weight="bold" font-style="normal" font-family="Liberation Sans, Arial, Helvetica, sans-serif">0.05</tspan></text>
<text transform="translate(745.90,1126.10)" fill="#000"><tspan x="-0.81" y="0.00" font-size="20.50" font-weight="bold" font-style="normal" font-family="Liberation Sans, Arial, Helvetica, sans-serif">0.1</tspan></text>
<text transform="translate(745.90,1038.10)" fill="#000"><tspan x="-0.81" y="0.00" font-size="20.50" font-weight="bold" font-style="normal" font-family="Liberation Sans, Arial, Helvetica, sans-serif">0.15</tspan></text>
<text transform="translate(745.90,950.10)" fill="#000"><tspan x="-0.81" y="0.00" font-size="20.50" font-weight="bold" font-style="normal" font-family="Liberation Sans, Arial, Helvetica, sans-serif">0.2</tspan></text>
<text transform="translate(745.90,862.10)" fill="#000"><tspan x="-0.81" y="0.00" font-size="20.50" font-weight="bold" font-style="normal" font-family="Liberation Sans, Arial, Helvetica, sans-serif">0.25</tspan></text>
<text transform="translate(745.90,774.10)" fill="#000"><tspan x="-0.81" y="0.00" font-size="20.50" font-weight="bold" font-style="normal" font-family="Liberation Sans, Arial, Helvetica, sans-serif">0.3</tspan></text>
<text transform="translate(745.90,686.10)" fill="#000"><tspan x="-0.81" y="0.00" font-size="20.50" font-weight="bold" font-style="normal" font-family="Liberation Sans, Arial, Helvetica, sans-serif">0.35</tspan></text>
<text transform="translate(802.70,828.00) rotate(90) scale(0.9284,1.0000)" fill="#000"><tspan x="-2.06" y="0.00" font-size="30.80" font-weight="bold" font-style="normal" font-family="Liberation Sans, Arial, Helvetica, sans-serif">Partial Concentration</tspan></text>
<defs><radialGradient id="bd1" cx="0.5" cy="0.5" r="0.5"><stop offset="0.000" stop-color="#100c0c" stop-opacity="1.000"/><stop offset="0.021" stop-color="#170c0c" stop-opacity="1.000"/><stop offset="0.042" stop-color="#1d0c0c" stop-opacity="1.000"/><stop offset="0.062" stop-color="#410e0e" stop-opacity="1.000"/><stop offset="0.083" stop-color="#701515" stop-opacity="1.000"/><stop offset="0.104" stop-color="#9b1d1d" stop-opacity="1.000"/><stop offset="0.125" stop-color="#c52424" stop-opacity="1.000"/><stop offset="0.146" stop-color="#d92829" stop-opacity="1.000"/><stop offset="0.167" stop-color="#de2b2d" stop-opacity="1.000"/><stop offset="0.188" stop-color="#e12939" stop-opacity="1.000"/><stop offset="0.208" stop-color="#e2204f" stop-opacity="1.000"/><stop offset="0.229" stop-color="#e41e6e" stop-opacity="1.000"/><stop offset="0.250" stop-color="#e42f87" stop-opacity="1.000"/><stop offset="0.271" stop-color="#d94398" stop-opacity="1.000"/><stop offset="0.292" stop-color="#c64c9d" stop-opacity="1.000"/><stop offset="0.312" stop-color="#b54e9e" stop-opacity="1.000"/><stop offset="0.333" stop-color="#a4509e" stop-opacity="1.000"/><stop offset="0.354" stop-color="#8f57a5" stop-opacity="1.000"/><stop offset="0.375" stop-color="#8360ac" stop-opacity="1.000"/><stop offset="0.396" stop-color="#7571b8" stop-opacity="1.000"/><stop offset="0.417" stop-color="#6e86c4" stop-opacity="1.000"/><stop offset="0.438" stop-color="#699dd1" stop-opacity="1.000"/><stop offset="0.458" stop-color="#64acd9" stop-opacity="1.000"/><stop offset="0.479" stop-color="#63b6dd" stop-opacity="1.000"/><stop offset="0.500" stop-color="#65bbdd" stop-opacity="1.000"/><stop offset="0.521" stop-color="#66bfde" stop-opacity="1.000"/><stop offset="0.542" stop-color="#6ac2de" stop-opacity="1.000"/><stop offset="0.562" stop-color="#70c5dd" stop-opacity="1.000"/><stop offset="0.583" stop-color="#75c8dc" stop-opacity="1.000"/><stop offset="0.604" stop-color="#7acbdc" stop-opacity="1.000"/><stop offset="0.625" stop-color="#86cede" stop-opacity="1.000"/><stop offset="0.646" stop-color="#91d1df" stop-opacity="1.000"/><stop offset="0.667" stop-color="#9ad4e0" stop-opacity="1.000"/><stop offset="0.688" stop-color="#a3d6e1" stop-opacity="1.000"/><stop offset="0.708" stop-color="#aedae4" stop-opacity="1.000"/><stop offset="0.729" stop-color="#b9dfe8" stop-opacity="1.000"/><stop offset="0.750" stop-color="#c4e4eb" stop-opacity="1.000"/><stop offset="0.771" stop-color="#cfe8ef" stop-opacity="0.828"/><stop offset="0.792" stop-color="#d6ebf1" stop-opacity="0.672"/><stop offset="0.812" stop-color="#dceef3" stop-opacity="0.555"/><stop offset="0.833" stop-color="#e1f0f4" stop-opacity="0.438"/><stop offset="0.854" stop-color="#e7f2f6" stop-opacity="0.320"/><stop offset="0.875" stop-color="#eaf4f7" stop-opacity="0.234"/><stop offset="0.896" stop-color="#ecf5f8" stop-opacity="0.195"/><stop offset="0.917" stop-color="#edf6f9" stop-opacity="0.156"/><stop offset="0.938" stop-color="#eff7f9" stop-opacity="0.117"/><stop offset="0.958" stop-color="#f1f7fa" stop-opacity="0.078"/><stop offset="0.979" stop-color="#f2f8fa" stop-opacity="0.039"/><stop offset="1.000" stop-color="#f4f9fb" stop-opacity="0.000"/></radialGradient></defs>
<ellipse cx="1414.60" cy="1014.10" rx="20.93" ry="29.71" fill="url(#bd1)"/>
<line x1="921.50" y1="659.60" x2="921.50" y2="1294.60" stroke="#000" stroke-width="2.7" />
<line x1="920.20" y1="1293.20" x2="1508.50" y2="1293.20" stroke="#000" stroke-width="2.9" />
<line x1="917.50" y1="1279.40" x2="921.50" y2="1279.40" stroke="#000" stroke-width="2.2" stroke-linecap="round"/>
<line x1="917.50" y1="1252.20" x2="921.50" y2="1252.20" stroke="#000" stroke-width="2.2" stroke-linecap="round"/>
<line x1="917.50" y1="1225.00" x2="921.50" y2="1225.00" stroke="#000" stroke-width="2.2" stroke-linecap="round"/>
<line x1="917.50" y1="1197.80" x2="921.50" y2="1197.80" stroke="#000" stroke-width="2.2" stroke-linecap="round"/>
<line x1="917.50" y1="1170.60" x2="921.50" y2="1170.60" stroke="#000" stroke-width="2.2" stroke-linecap="round"/>
<line x1="917.50" y1="1143.40" x2="921.50" y2="1143.40" stroke="#000" stroke-width="2.2" stroke-linecap="round"/>
<line x1="917.50" y1="1116.20" x2="921.50" y2="1116.20" stroke="#000" stroke-width="2.2" stroke-linecap="round"/>
<line x1="917.50" y1="1089.00" x2="921.50" y2="1089.00" stroke="#000" stroke-width="2.2" stroke-linecap="round"/>
<line x1="917.50" y1="1061.80" x2="921.50" y2="1061.80" stroke="#000" stroke-width="2.2" stroke-linecap="round"/>
<line x1="917.50" y1="1034.60" x2="921.50" y2="1034.60" stroke="#000" stroke-width="2.2" stroke-linecap="round"/>
<line x1="917.50" y1="1007.40" x2="921.50" y2="1007.40" stroke="#000" stroke-width="2.2" stroke-linecap="round"/>
<line x1="917.50" y1="980.20" x2="921.50" y2="980.20" stroke="#000" stroke-width="2.2" stroke-linecap="round"/>
<line x1="917.50" y1="953.00" x2="921.50" y2="953.00" stroke="#000" stroke-width="2.2" stroke-linecap="round"/>
<line x1="917.50" y1="925.80" x2="921.50" y2="925.80" stroke="#000" stroke-width="2.2" stroke-linecap="round"/>
<line x1="917.50" y1="898.60" x2="921.50" y2="898.60" stroke="#000" stroke-width="2.2" stroke-linecap="round"/>
<line x1="917.50" y1="871.40" x2="921.50" y2="871.40" stroke="#000" stroke-width="2.2" stroke-linecap="round"/>
<line x1="917.50" y1="844.20" x2="921.50" y2="844.20" stroke="#000" stroke-width="2.2" stroke-linecap="round"/>
<line x1="917.50" y1="817.00" x2="921.50" y2="817.00" stroke="#000" stroke-width="2.2" stroke-linecap="round"/>
<line x1="917.50" y1="789.80" x2="921.50" y2="789.80" stroke="#000" stroke-width="2.2" stroke-linecap="round"/>
<line x1="917.50" y1="762.60" x2="921.50" y2="762.60" stroke="#000" stroke-width="2.2" stroke-linecap="round"/>
<line x1="917.50" y1="735.40" x2="921.50" y2="735.40" stroke="#000" stroke-width="2.2" stroke-linecap="round"/>
<line x1="917.50" y1="708.20" x2="921.50" y2="708.20" stroke="#000" stroke-width="2.2" stroke-linecap="round"/>
<line x1="917.50" y1="681.00" x2="921.50" y2="681.00" stroke="#000" stroke-width="2.2" stroke-linecap="round"/>
<line x1="928.14" y1="1293.20" x2="928.14" y2="1296.80" stroke="#000" stroke-width="2.2" stroke-linecap="round"/>
<line x1="949.06" y1="1293.20" x2="949.06" y2="1296.80" stroke="#000" stroke-width="2.2" stroke-linecap="round"/>
<line x1="969.98" y1="1293.20" x2="969.98" y2="1296.80" stroke="#000" stroke-width="2.2" stroke-linecap="round"/>
<line x1="990.90" y1="1293.20" x2="990.90" y2="1296.80" stroke="#000" stroke-width="2.2" stroke-linecap="round"/>
<line x1="1011.82" y1="1293.20" x2="1011.82" y2="1296.80" stroke="#000" stroke-width="2.2" stroke-linecap="round"/>
<line x1="1032.74" y1="1293.20" x2="1032.74" y2="1296.80" stroke="#000" stroke-width="2.2" stroke-linecap="round"/>
<line x1="1053.66" y1="1293.20" x2="1053.66" y2="1296.80" stroke="#000" stroke-width="2.2" stroke-linecap="round"/>
<line x1="1074.58" y1="1293.20" x2="1074.58" y2="1296.80" stroke="#000" stroke-width="2.2" stroke-linecap="round"/>
<line x1="1095.50" y1="1293.20" x2="1095.50" y2="1296.80" stroke="#000" stroke-width="2.2" stroke-linecap="round"/>
<line x1="1116.42" y1="1293.20" x2="1116.42" y2="1296.80" stroke="#000" stroke-width="2.2" stroke-linecap="round"/>
<line x1="1137.34" y1="1293.20" x2="1137.34" y2="1296.80" stroke="#000" stroke-width="2.2" stroke-linecap="round"/>
<line x1="1158.26" y1="1293.20" x2="1158.26" y2="1296.80" stroke="#000" stroke-width="2.2" stroke-linecap="round"/>
<line x1="1179.18" y1="1293.20" x2="1179.18" y2="1296.80" stroke="#000" stroke-width="2.2" stroke-linecap="round"/>
<line x1="1200.10" y1="1293.20" x2="1200.10" y2="1296.80" stroke="#000" stroke-width="2.2" stroke-linecap="round"/>
<line x1="1221.02" y1="1293.20" x2="1221.02" y2="1296.80" stroke="#000" stroke-width="2.2" stroke-linecap="round"/>
<line x1="1241.94" y1="1293.20" x2="1241.94" y2="1296.80" stroke="#000" stroke-width="2.2" stroke-linecap="round"/>
<line x1="1262.86" y1="1293.20" x2="1262.86" y2="1296.80" stroke="#000" stroke-width="2.2" stroke-linecap="round"/>
<line x1="1283.78" y1="1293.20" x2="1283.78" y2="1296.80" stroke="#000" stroke-width="2.2" stroke-linecap="round"/>
<line x1="1304.70" y1="1293.20" x2="1304.70" y2="1296.80" stroke="#000" stroke-width="2.2" stroke-linecap="round"/>
<line x1="1325.62" y1="1293.20" x2="1325.62" y2="1296.80" stroke="#000" stroke-width="2.2" stroke-linecap="round"/>
<line x1="1346.54" y1="1293.20" x2="1346.54" y2="1296.80" stroke="#000" stroke-width="2.2" stroke-linecap="round"/>
<line x1="1367.46" y1="1293.20" x2="1367.46" y2="1296.80" stroke="#000" stroke-width="2.2" stroke-linecap="round"/>
<line x1="1388.38" y1="1293.20" x2="1388.38" y2="1296.80" stroke="#000" stroke-width="2.2" stroke-linecap="round"/>
<line x1="1409.30" y1="1293.20" x2="1409.30" y2="1296.80" stroke="#000" stroke-width="2.2" stroke-linecap="round"/>
<line x1="1430.22" y1="1293.20" x2="1430.22" y2="1296.80" stroke="#000" stroke-width="2.2" stroke-linecap="round"/>
<line x1="1451.14" y1="1293.20" x2="1451.14" y2="1296.80" stroke="#000" stroke-width="2.2" stroke-linecap="round"/>
<line x1="1472.06" y1="1293.20" x2="1472.06" y2="1296.80" stroke="#000" stroke-width="2.2" stroke-linecap="round"/>
<line x1="1492.98" y1="1293.20" x2="1492.98" y2="1296.80" stroke="#000" stroke-width="2.2" stroke-linecap="round"/>
<text transform="translate(913.00,1095.20) scale(0.9700,1.0000)" fill="#000"><tspan x="-28.89" y="0.00" font-size="21.40" font-weight="bold" font-style="normal" font-family="Liberation Sans, Arial, Helvetica, sans-serif">1.2</tspan></text>
<text transform="translate(913.00,986.40) scale(0.9700,1.0000)" fill="#000"><tspan x="-29.63" y="0.00" font-size="21.40" font-weight="bold" font-style="normal" font-family="Liberation Sans, Arial, Helvetica, sans-serif">1.4</tspan></text>
<text transform="translate(913.00,877.60) scale(0.9700,1.0000)" fill="#000"><tspan x="-28.98" y="0.00" font-size="21.40" font-weight="bold" font-style="normal" font-family="Liberation Sans, Arial, Helvetica, sans-serif">1.6</tspan></text>
<text transform="translate(913.00,768.80) scale(0.9700,1.0000)" fill="#000"><tspan x="-29.09" y="0.00" font-size="21.40" font-weight="bold" font-style="normal" font-family="Liberation Sans, Arial, Helvetica, sans-serif">1.8</tspan></text>
<text transform="translate(903.90,1198.80) scale(0.6628,1.0000)" fill="#000"><tspan x="-11.31" y="0.00" font-size="21.40" font-weight="bold" font-style="normal" font-family="Liberation Sans, Arial, Helvetica, sans-serif">1</tspan></text>
<text transform="translate(991.20,1318.00) scale(0.9700,1.0000)" fill="#000"><tspan x="-15.25" y="0.00" font-size="21.40" font-weight="bold" font-style="normal" font-family="Liberation Sans, Arial, Helvetica, sans-serif">1.5</tspan></text>
<text transform="translate(1095.80,1318.00) scale(0.9700,1.0000)" fill="#000"><tspan x="-5.89" y="0.00" font-size="21.40" font-weight="bold" font-style="normal" font-family="Liberation Sans, Arial, Helvetica, sans-serif">2</tspan></text>
<text transform="translate(1200.40,1318.00) scale(0.9700,1.0000)" fill="#000"><tspan x="-14.95" y="0.00" font-size="21.40" font-weight="bold" font-style="normal" font-family="Liberation Sans, Arial, Helvetica, sans-serif">2.5</tspan></text>
<text transform="translate(1305.00,1318.00) scale(0.9700,1.0000)" fill="#000"><tspan x="-5.81" y="0.00" font-size="21.40" font-weight="bold" font-style="normal" font-family="Liberation Sans, Arial, Helvetica, sans-serif">3</tspan></text>
<text transform="translate(1409.60,1318.00) scale(0.9700,1.0000)" fill="#000"><tspan x="-14.82" y="0.00" font-size="21.40" font-weight="bold" font-style="normal" font-family="Liberation Sans, Arial, Helvetica, sans-serif">3.5</tspan></text>
<text transform="translate(922.70,1354.50) scale(1.0098,1.0000)" fill="#000"><tspan x="-0.73" y="0.00" font-size="25.30" font-weight="bold" font-style="normal" font-family="Liberation Sans, Arial, Helvetica, sans-serif">Sedimentation Coefficient (1e-13) in water at 20°C</tspan></text>
<text transform="translate(867.90,1090.50) rotate(-90) scale(0.9450,1.0000)" fill="#000"><tspan x="-2.01" y="0.00" font-size="30.00" font-weight="bold" font-style="normal" font-family="Liberation Sans, Arial, Helvetica, sans-serif">Frictional Ratio f/f</tspan><tspan x="252.99" y="9.00" font-size="16.70" font-weight="bold" font-style="normal" font-family="Liberation Sans, Arial, Helvetica, sans-serif">0</tspan></text>
<text transform="translate(796.30,679.50)" fill="#000"><tspan x="-3.19" y="0.00" font-size="64.00" font-weight="bold" font-style="normal" font-family="Liberation Sans, Arial, Helvetica, sans-serif">(d)</tspan></text>
<defs><linearGradient id="gd" x1="0" y1="0" x2="0" y2="1"><stop offset="0.0000" stop-color="#100c0c"/><stop offset="0.0125" stop-color="#140c0c"/><stop offset="0.0250" stop-color="#180c0c"/><stop offset="0.0375" stop-color="#1b0c0c"/><stop offset="0.0500" stop-color="#230c0c"/><stop offset="0.0625" stop-color="#310d0d"/><stop offset="0.0750" stop-color="#410e0e"/><stop offset="0.0875" stop-color="#520f0f"/><stop offset="0.1000" stop-color="#631212"/><stop offset="0.1125" stop-color="#761616"/><stop offset="0.1250" stop-color="#891a1a"/><stop offset="0.1375" stop-color="#9a1d1d"/><stop offset="0.1500" stop-color="#ad2020"/><stop offset="0.1625" stop-color="#c02323"/><stop offset="0.1750" stop-color="#cc2626"/><stop offset="0.1875" stop-color="#d72828"/><stop offset="0.2000" stop-color="#da292a"/><stop offset="0.2125" stop-color="#dc2a2c"/><stop offset="0.2250" stop-color="#de2b2e"/><stop offset="0.2375" stop-color="#e02c30"/><stop offset="0.2500" stop-color="#e12939"/><stop offset="0.2625" stop-color="#e12641"/><stop offset="0.2750" stop-color="#e2224a"/><stop offset="0.2875" stop-color="#e22052"/><stop offset="0.3000" stop-color="#e31f5d"/><stop offset="0.3125" stop-color="#e31f67"/><stop offset="0.3250" stop-color="#e41e72"/><stop offset="0.3375" stop-color="#e4217b"/><stop offset="0.3500" stop-color="#e42982"/><stop offset="0.3625" stop-color="#e4318a"/><stop offset="0.3750" stop-color="#e43991"/><stop offset="0.3875" stop-color="#e13e95"/><stop offset="0.4000" stop-color="#dc4297"/><stop offset="0.4125" stop-color="#d64699"/><stop offset="0.4250" stop-color="#d1499c"/><stop offset="0.4375" stop-color="#cc4b9c"/><stop offset="0.4500" stop-color="#c74c9d"/><stop offset="0.4625" stop-color="#c14d9d"/><stop offset="0.4750" stop-color="#bc4e9e"/><stop offset="0.4875" stop-color="#b94e9e"/><stop offset="0.5000" stop-color="#b64e9e"/><stop offset="0.5125" stop-color="#b34e9e"/><stop offset="0.5250" stop-color="#af4e9e"/><stop offset="0.5375" stop-color="#ab4f9e"/><stop offset="0.5500" stop-color="#a74f9e"/><stop offset="0.5625" stop-color="#a3509e"/><stop offset="0.5750" stop-color="#9e519f"/><stop offset="0.5875" stop-color="#9953a1"/><stop offset="0.6000" stop-color="#9455a3"/><stop offset="0.6125" stop-color="#8e57a5"/><stop offset="0.6250" stop-color="#8a59a7"/><stop offset="0.6375" stop-color="#875ca9"/><stop offset="0.6500" stop-color="#845fab"/><stop offset="0.6625" stop-color="#8161ad"/><stop offset="0.6750" stop-color="#7d66b1"/><stop offset="0.6875" stop-color="#796cb4"/><stop offset="0.7000" stop-color="#7572b8"/><stop offset="0.7125" stop-color="#7077bc"/><stop offset="0.7250" stop-color="#6f7fc0"/><stop offset="0.7375" stop-color="#6e86c4"/><stop offset="0.7500" stop-color="#6d8dc8"/><stop offset="0.7625" stop-color="#6c95cc"/><stop offset="0.7750" stop-color="#699cd1"/><stop offset="0.7875" stop-color="#67a4d5"/><stop offset="0.8000" stop-color="#64acd9"/><stop offset="0.8125" stop-color="#62b3dc"/><stop offset="0.8250" stop-color="#63b7dd"/><stop offset="0.8375" stop-color="#64badd"/><stop offset="0.8500" stop-color="#65bede"/><stop offset="0.8625" stop-color="#68c1de"/><stop offset="0.8750" stop-color="#6dc4dd"/><stop offset="0.8875" stop-color="#72c6dd"/><stop offset="0.9000" stop-color="#76c9dc"/><stop offset="0.9125" stop-color="#80ccdd"/><stop offset="0.9250" stop-color="#8dd0df"/><stop offset="0.9375" stop-color="#99d4e0"/><stop offset="0.9500" stop-color="#a6d7e2"/><stop offset="0.9625" stop-color="#b9dfe7"/><stop offset="0.9750" stop-color="#cde7ee"/><stop offset="0.9875" stop-color="#e1f0f4"/><stop offset="1.0000" stop-color="#f4f9fb"/></linearGradient></defs>
<rect x="1498.40" y="658.90" width="14.60" height="632.50" fill="url(#gd)"/>
<line x1="1509.20" y1="657.00" x2="1509.20" y2="1292.30" stroke="#000" stroke-width="4.6" />
<g fill="#000"><circle cx="1514.4" cy="1291.40" r="1.9"/><circle cx="1514.4" cy="1261.22" r="1.9"/><circle cx="1514.4" cy="1231.04" r="1.9"/><circle cx="1514.4" cy="1200.86" r="1.9"/><circle cx="1514.4" cy="1170.68" r="1.9"/><circle cx="1514.4" cy="1140.50" r="1.9"/><circle cx="1514.4" cy="1110.32" r="1.9"/><circle cx="1514.4" cy="1080.14" r="1.9"/><circle cx="1514.4" cy="1049.96" r="1.9"/><circle cx="1514.4" cy="1019.78" r="1.9"/><circle cx="1514.4" cy="989.60" r="1.9"/><circle cx="1514.4" cy="959.42" r="1.9"/><circle cx="1514.4" cy="929.24" r="1.9"/><circle cx="1514.4" cy="899.06" r="1.9"/><circle cx="1514.4" cy="868.88" r="1.9"/><circle cx="1514.4" cy="838.70" r="1.9"/><circle cx="1514.4" cy="808.52" r="1.9"/><circle cx="1514.4" cy="778.34" r="1.9"/><circle cx="1514.4" cy="748.16" r="1.9"/><circle cx="1514.4" cy="717.98" r="1.9"/><circle cx="1514.4" cy="687.80" r="1.9"/><circle cx="1514.4" cy="657.62" r="1.9"/></g>
<text transform="translate(1517.60,1292.70) scale(1.1000,1.0000)" fill="#000"><tspan x="-0.77" y="0.00" font-size="19.50" font-weight="bold" font-style="normal" font-family="Liberation Sans, Arial, Helvetica, sans-serif">0</tspan></text>
<text transform="translate(1517.60,1141.80) scale(1.1000,1.0000)" fill="#000"><tspan x="-0.77" y="0.00" font-size="19.50" font-weight="bold" font-style="normal" font-family="Liberation Sans, Arial, Helvetica, sans-serif">0.1</tspan></text>
<text transform="translate(1517.60,990.90) scale(1.1000,1.0000)" fill="#000"><tspan x="-0.77" y="0.00" font-size="19.50" font-weight="bold" font-style="normal" font-family="Liberation Sans, Arial, Helvetica, sans-serif">0.2</tspan></text>
<text transform="translate(1517.60,840.00) scale(1.1000,1.0000)" fill="#000"><tspan x="-0.77" y="0.00" font-size="19.50" font-weight="bold" font-style="normal" font-family="Liberation Sans, Arial, Helvetica, sans-serif">0.3</tspan></text>
<text transform="translate(1517.60,689.10) scale(1.1000,1.0000)" fill="#000"><tspan x="-0.77" y="0.00" font-size="19.50" font-weight="bold" font-style="normal" font-family="Liberation Sans, Arial, Helvetica, sans-serif">0.4</tspan></text>
<text transform="translate(1570.60,826.80) rotate(90) scale(0.9234,1.0000)" fill="#000"><tspan x="-2.07" y="0.00" font-size="31.00" font-weight="bold" font-style="normal" font-family="Liberation Sans, Arial, Helvetica, sans-serif">Partial Concentration</tspan></text>
<path d="M158.2 1523.7L158.8 1525.9L159.3 1525.7L159.9 1522.7L160.4 1523.1L161 1522.7L161.5 1524.6L162.1 1523.5L162.6 1524.9L163.2 1520.5L164.4 1524.2L164.9 1669.4L165.1 1610.7L165.3 1574L165.4 1552L165.5 1540.2L165.4 1552.6L165.7 1540.6L166.7 1535.6L166.1 1531.6L167.4 1532.6L166.9 1527.6L167.9 1528.6L166 1524.6L165.4 1487.9L165.8 1503.5L166.1 1512.2L166.3 1516.4L166.7 1512.2L167 1518.4L167.4 1515.7L167.8 1518.6L168.3 1515.6L168.8 1520.6L169.4 1518.6L170 1521.6L170.6 1523.4L171.2 1524.8L171.7 1523.4L172.3 1523L172.8 1524.4L173.4 1525L173.9 1523.3L174.5 1523.3L175 1524.8L175.6 1522.1L176.1 1521L176.7 1524.3L177.2 1522.5L177.8 1520.3L178.3 1522.2L178.9 1522.8L179.4 1521.6L180.5 1521.1L181 1879.4L181.2 1736.7L181.4 1647.5L181.5 1594L181.6 1565.4L181.7 1552.6L181.8 1540.6L182.8 1535.6L182.2 1531.6L183.5 1532.6L183 1527.6L184 1528.6L182.1 1524.6L181.5 1489.1L181.9 1504.2L182.2 1512.5L182.4 1516.6L182.8 1512.5L183.1 1518.6L183.5 1515.9L183.9 1518.6L184.4 1515.6L184.9 1520.6L185.5 1518.6L186.1 1521.6L186.7 1523.7L187.2 1525.1L187.8 1523.2L188.4 1522.3L188.9 1524.3L189.5 1524.8L190 1523.1L190.6 1524.5L191.1 1525.4L191.7 1523.2L192.2 1522.2L192.8 1524.2L193.3 1524L193.9 1525.5L194.4 1521.4L195 1522.5L196.1 1521.8L196.7 1883.5L196.8 1739.1L197 1648.9L197.1 1594.8L197.2 1565.9L197.3 1552.6L197.4 1540.6L198.4 1535.6L197.8 1531.6L199.1 1532.6L198.6 1527.6L199.6 1528.6L197.7 1524.6L197.2 1492.2L197.6 1505.9L197.8 1513.5L198.1 1517.1L198.4 1513.5L198.7 1519L199.1 1516.5L199.5 1518.6L200 1515.6L200.5 1520.6L201.1 1518.6L201.7 1521.6L202.3 1520.7L202.9 1523.8L203.4 1524.5L204 1522.3L204.5 1526L205.1 1525L205.6 1524.7L206.2 1524.3L206.7 1525.2L207.3 1521.3L207.8 1524.6L208.4 1524.6L208.9 1520.6L209.5 1524.2L210 1523.2L210.6 1524.9L211.7 1522.2L212.3 1881.8L212.5 1738.1L212.6 1648.3L212.7 1594.4L212.9 1565.7L213 1552.6L213 1540.6L214 1535.6L213.4 1531.6L214.7 1532.6L214.2 1527.6L215.2 1528.6L213.3 1524.6L212.8 1490.3L213.2 1504.8L213.4 1512.9L213.7 1516.8L214 1512.9L214.3 1518.7L214.7 1516.1L215.1 1518.6L215.6 1515.6L216.1 1520.6L216.7 1518.6L217.3 1521.6L217.9 1523.6L218.5 1524.2L219 1522.1L219.6 1524.6L220.1 1523.4L220.7 1524.4L221.2 1522.7L221.8 1525.4L222.3 1524.6L222.9 1523.3L223.4 1524.7L224 1525.7L224.5 1526.6L225.1 1520.9L225.6 1525.1L226.2 1524.4L227.3 1522.5L227.9 1868.6L228.1 1730.2L228.2 1643.7L228.4 1591.8L228.5 1564.1L228.6 1552.6L228.6 1540.6L229.6 1535.6L229 1531.6L230.3 1532.6L229.8 1527.6L230.8 1528.6L228.9 1524.6L228.4 1492.7L228.8 1506.2L229 1513.6L229.3 1517.2L229.6 1513.6L229.9 1519L230.3 1516.6L230.7 1518.6L231.2 1515.6L231.7 1520.6L232.3 1518.6L232.9 1521.6L233.5 1521.9L234.1 1525.7L234.6 1521.5L235.2 1524.6L235.7 1525.8L236.3 1520.9L236.8 1523.1L237.4 1521.4L237.9 1524L238.5 1526.2L239 1527L239.6 1520.6L240.1 1522.6L240.7 1524.8L241.2 1526.3L241.8 1524.3L243 1521.9L243.5 1867.4L243.7 1729.5L243.8 1643.3L244 1591.6L244.1 1564L244.2 1552.6L244.3 1540.6L245.3 1535.6L244.7 1531.6L246 1532.6L245.5 1527.6L246.5 1528.6L244.6 1524.6L244 1495.1L244.4 1507.5L244.7 1514.3L244.9 1517.6L245.3 1514.3L245.6 1519.3L246 1517.1L246.4 1518.6L246.9 1515.6L247.4 1520.6L248 1518.6L248.6 1521.6L249.2 1524.1L249.7 1523.6L250.3 1523.3L250.8 1522.4L251.4 1524.3L251.9 1524.1L252.5 1523.4L253 1523.2L253.6 1521.4L254.1 1522.8L254.7 1525.7L255.2 1523.3L255.8 1521.2L256.3 1525.9L256.9 1524.5L257.4 1527.2L258.6 1522.7L259.1 1846.4L259.3 1716.9L259.4 1635.9L259.6 1587.4L259.7 1561.5L259.8 1552.6L259.9 1540.6L260.9 1535.6L260.3 1531.6L261.6 1532.6L261.1 1527.6L262.1 1528.6L260.2 1524.6L259.6 1498.2L260 1509.2L260.3 1515.3L260.5 1518.2L260.9 1515.3L261.2 1519.7L261.6 1517.7L262 1518.6L262.5 1515.6L263 1520.6L263.6 1518.6L264.2 1521.6L264.8 1522.8L265.3 1521.1L265.9 1525.9L266.4 1528L267 1522.2L267.5 1522.5L268.1 1524.6L268.6 1522.2L269.2 1523.1L269.7 1523L270.3 1523.9L270.8 1525.5L271.4 1523.6L271.9 1525.2L272.5 1522.9L273 1524.2L274.2 1520.5L274.7 1823.6L274.9 1703.2L275.1 1627.9L275.2 1582.8L275.3 1558.7L275.4 1552.6L275.5 1540.6L276.5 1535.6L275.9 1531.6L277.2 1532.6L276.7 1527.6L277.7 1528.6L275.8 1524.6L275.2 1502.7L275.6 1511.7L275.9 1516.6L276.1 1519L276.5 1516.6L276.8 1520.2L277.2 1518.6L277.6 1518.6L278.1 1515.6L278.6 1520.6L279.2 1518.6L279.8 1521.6L280.4 1521.1L280.9 1525L281.5 1522.6L282 1524.6L282.6 1524.5L283.1 1525.8L283.7 1525L284.2 1525.3L284.8 1523.4L285.3 1522.4L285.9 1522.4L286.4 1522.8L287 1521.7L287.5 1522.7L288.1 1523.4L288.6 1524L289.8 1522.3L290.4 1804.7L290.5 1691.9L290.7 1621.3L290.8 1579L290.9 1556.5L291 1552.6L291.1 1540.6L292.1 1535.6L291.5 1531.6L292.8 1532.6L292.3 1527.6L293.3 1528.6L291.4 1524.6L290.9 1501.3L291.3 1510.9L291.5 1516.2L291.8 1518.8L292.1 1516.2L292.4 1520L292.8 1518.3L293.2 1518.6L293.7 1515.6L294.2 1520.6L294.8 1518.6L295.4 1521.6L296 1520.3L296.6 1523.5L297.1 1524L297.7 1525.4L298.2 1524.6L298.8 1522.5L299.3 1522.4L299.9 1527L300.4 1524.9L301 1526.7L301.5 1527.2L302.1 1522.2L302.6 1524.3L303.2 1524.4L303.7 1524.6L304.3 1524.5L305.4 1522.8L306 1802.3L306.2 1690.4L306.3 1620.5L306.4 1578.5L306.6 1556.2L306.6 1552.6L306.7 1540.6L307.7 1535.6L307.1 1531.6L308.4 1532.6L307.9 1527.6L308.9 1528.6L307 1524.6L306.5 1502.7L306.9 1511.7L307.1 1516.6L307.4 1519L307.7 1516.6L308 1520.2L308.4 1518.6L308.8 1518.6L309.3 1515.6L309.8 1520.6L310.4 1518.6L311 1521.6L311.6 1523.9L312.2 1521L312.7 1523.3L313.3 1522.3L313.8 1523.8L314.4 1522.8L314.9 1524.7L315.5 1525L316 1524.1L316.6 1524.1L317.1 1523.8L317.7 1522.8L318.2 1523.3L318.8 1522.8L319.3 1524.3L319.9 1523.6L321 1523.2L321.6 1794.4L321.8 1685.7L321.9 1617.7L322 1577L322.2 1555.2L322.2 1552.6L322.3 1540.6L323.3 1535.6L322.7 1531.6L324 1532.6L323.5 1527.6L324.5 1528.6L322.6 1524.6L322.1 1505.9L322.5 1513.4L322.7 1517.6L323 1519.6L323.3 1517.6L323.6 1520.6L324 1519.3L324.4 1518.6L324.9 1515.6L325.4 1520.6L326 1518.6L326.6 1521.6L327.2 1521.3L327.8 1525.1L328.3 1522.3L328.9 1522.4L329.4 1523.3L330 1522.6L330.5 1524.1L331.1 1522.6L331.6 1521.8L332.2 1522.2L332.7 1525.8L333.3 1523.7L333.8 1521.6L334.4 1523.6L334.9 1521L335.5 1526.6L336.7 1521.1L337.2 1781.2L337.4 1677.8L337.5 1613.1L337.7 1574.3L337.8 1553.6L337.8 1552.6L338 1540.6L339 1535.6L338.4 1531.6L339.7 1532.6L339.2 1527.6L340.2 1528.6L338.3 1524.6L337.7 1511.8L338.1 1516.7L338.4 1519.4L338.6 1520.7L339 1519.4L339.3 1521.3L339.7 1520.4L340.1 1518.6L340.6 1515.6L341.1 1520.6L341.7 1518.6L342.3 1521.6L342.9 1524.4L343.4 1524.5L344 1521.1L344.5 1524.1L345.1 1525.3L345.6 1524.4L346.2 1524L346.7 1525.2L347.3 1523.9L347.8 1524.2L348.4 1523.4L348.9 1524.7L349.5 1522L350 1524.9L350.6 1522.7L351.1 1521.7L352.3 1523L352.8 1767.3L353 1669.4L353.1 1608.2L353.3 1571.5L353.4 1552L353.4 1552.6L353.6 1540.6L354.6 1535.6L354 1531.6L355.3 1532.6L354.8 1527.6L355.8 1528.6L353.9 1524.6L353.3 1510.2L353.7 1515.8L354 1518.9L354.2 1520.4L354.6 1518.9L354.9 1521.1L355.3 1520.1L355.7 1518.6L356.2 1515.6L356.7 1520.6L357.3 1518.6L357.9 1521.6L358.5 1526.5L359 1525.2L359.6 1522.7L360.1 1524.8L360.7 1522.8L361.2 1523.4L361.8 1523.8L362.3 1519.7L362.9 1523.9L363.4 1521.8L364 1522.4L364.5 1521.1L365.1 1521L365.6 1522L366.2 1525L366.7 1526.4L367.9 1522.6L368.4 1748.9L368.6 1658.4L368.8 1601.8L368.9 1567.9L369 1549.8L369 1552.6L369.2 1540.6L370.2 1535.6L369.6 1531.6L370.9 1532.6L370.4 1527.6L371.4 1528.6L369.5 1524.6L368.9 1507L369.3 1514L369.6 1517.9L369.8 1519.8L370.2 1517.9L370.5 1520.7L370.9 1519.5L371.3 1518.6L371.8 1515.6L372.3 1520.6L372.9 1518.6L373.5 1521.6L374.1 1525.5L374.6 1523.2L375.2 1520.3L375.7 1523.9L376.3 1524.4L376.8 1522.9L377.4 1524.1L377.9 1524.6L378.5 1522.1L379 1521.1L379.6 1523.2L380.1 1523.2L380.7 1523L381.2 1525.3L381.8 1526.5L382.3 1522.9L383.5 1523.3L384.1 1732.1L384.2 1648.3L384.4 1595.9L384.5 1564.5L384.6 1547.7L384.6 1552.6L384.8 1540.6L385.8 1535.6L385.2 1531.6L386.5 1532.6L386 1527.6L387 1528.6L385.1 1524.6L384.6 1505.9L385 1513.4L385.2 1517.6L385.5 1519.6L385.8 1517.6L386.1 1520.6L386.5 1519.3L386.9 1518.6L387.4 1515.6L387.9 1520.6L388.5 1518.6L389.1 1521.6L389.7 1525.2L390.3 1524.8L390.8 1525.4L391.4 1522.9L391.9 1524.9L392.5 1527L393 1525L393.6 1522.5L394.1 1524.6L394.7 1525.7L395.2 1524.2L395.8 1522.6L396.3 1526.2L396.9 1521.5L397.4 1524.5L398 1523.6L399.1 1521.4L399.7 1712.3L399.9 1636.4L400 1589L400.1 1560.5L400.3 1545.4L400.2 1552.6L400.4 1540.6L401.4 1535.6L400.8 1531.6L402.1 1532.6L401.6 1527.6L402.6 1528.6L400.7 1524.6L400.2 1497L400.6 1508.5L400.8 1514.9L401.1 1518L401.4 1514.9L401.7 1519.5L402.1 1517.5L402.5 1518.6L403 1515.6L403.5 1520.6L404.1 1518.6L404.7 1521.6L405.3 1525.7L405.9 1524.2L406.4 1521.6L407 1524.6L407.5 1522.9L408.1 1520.4L408.6 1522.4L409.2 1524L409.7 1524.7L410.3 1523.9L410.8 1523.7L411.4 1524.4L411.9 1523.2L412.5 1525.6L413 1523.9L413.6 1524.1L414.7 1523.1L415.3 1699.3L415.5 1628.6L415.6 1584.4L415.7 1557.9L415.9 1543.8L415.8 1552.6L416 1540.6L417 1535.6L416.4 1531.6L417.7 1532.6L417.2 1527.6L418.2 1528.6L416.3 1524.6L415.8 1496.5L416.2 1508.2L416.4 1514.8L416.7 1517.9L417 1514.8L417.3 1519.5L417.7 1517.4L418.1 1518.6L418.6 1515.6L419.1 1520.6L419.7 1518.6L420.3 1521.6L420.9 1521.8L421.5 1522.4L422 1526.2L422.6 1524.2L423.1 1523.1L423.7 1524.2L424.2 1522.8L424.8 1524.1L425.3 1522.5L425.9 1524.1L426.4 1520.9L427 1525.9L427.5 1522.7L428.1 1520.9L428.6 1523.2L429.2 1523L430.4 1522.8L430.9 1686.6L431.1 1621L431.2 1580L431.4 1555.4L431.5 1542.3L431.4 1552.6L431.7 1540.6L432.7 1535.6L432.1 1531.6L433.4 1532.6L432.9 1527.6L433.9 1528.6L432 1524.6L431.4 1491.5L431.8 1505.5L432.1 1513.3L432.3 1517L432.7 1513.3L433 1518.9L433.4 1516.4L433.8 1518.6L434.3 1515.6L434.8 1520.6L435.4 1518.6L436 1521.6L436.6 1521.7L437.1 1524.3L437.7 1529.8L438.2 1521.4L438.8 1524.2L439.3 1523.1L439.9 1523.9L440.4 1520.5L441 1521.6L441.5 1524.4L442.1 1523.5L442.6 1526.4L443.2 1522.4L443.7 1523.9L444.3 1528.6L444.8 1522.3L446 1521.7L446.5 1676.6L446.7 1615L446.8 1576.5L447 1553.4L447.1 1541.1L447 1552.6L447.3 1540.6L448.3 1535.6L447.7 1531.6L449 1532.6L448.5 1527.6L449.5 1528.6L447.6 1524.6L447 1487.9L447.4 1503.5L447.7 1512.2L447.9 1516.4L448.3 1512.2L448.6 1518.4L449 1515.7L449.4 1518.6L449.9 1515.6L450.4 1520.6L451 1518.6L451.6 1521.6L452.2 1523.5L452.7 1523.5L453.3 1525L453.8 1523.8L454.4 1522.3L454.9 1524L455.5 1528.1L456 1525.8L456.6 1518.9L457.1 1523.4L457.7 1522.1L458.2 1524.7L458.8 1523.3L459.3 1526.9L459.9 1525.2L460.4 1525.1L461.6 1522.8L462.1 1669.4L462.3 1610.7L462.5 1574L462.6 1552L462.7 1540.2L462.6 1552.6L462.9 1540.6L463.9 1535.6L463.3 1531.6L464.6 1532.6L464.1 1527.6L465.1 1528.6L463.2 1524.6L462.6 1485L463 1501.9L463.3 1511.3L463.5 1515.8L463.9 1511.3L464.2 1518.1L464.6 1515.1L465 1518.6L465.5 1515.6L466 1520.6L466.6 1518.6L467.2 1521.6L467.8 1523.5L468.3 1524.2L468.9 1525.8L469.4 1524.5L470 1523L470.5 1525.8L471.1 1523.9L471.6 1523.5L472.2 1522.3L472.7 1522.6L473.3 1522.5L473.8 1518.9L474.4 1525.3L474.9 1524.6L475.5 1523.2L476 1525.4L477.2 1523L477.8 1662.1L477.9 1606.3L478.1 1571.4L478.2 1550.5L478.3 1539.3L478.2 1552.6L478.5 1540.6L479.5 1535.6L478.9 1531.6L480.2 1532.6L479.7 1527.6L480.7 1528.6L478.8 1524.6L478.3 1478.4L478.7 1498.3L478.9 1509.3L479.2 1514.6L479.5 1509.3L479.8 1517.3L480.2 1513.8L480.6 1518.6L481.1 1515.6L481.6 1520.6L482.2 1518.6L482.8 1521.6L483.4 1524.2L484 1519.4L484.5 1523.2L485.1 1524.5L485.6 1526.3L486.2 1526.7L486.7 1526L487.3 1521.6L487.8 1519.9L488.4 1524.6L488.9 1523.6L489.5 1525.2L490 1523.4L490.6 1524L491.1 1521.1L491.7 1524.4L492.8 1522.2L493.4 1653.6L493.5 1601.2L493.7 1568.4L493.8 1548.8L494 1538.3L493.8 1552.6L494.1 1540.6L495.1 1535.6L494.5 1531.6L495.8 1532.6L495.3 1527.6L496.3 1528.6L494.4 1524.6L493.9 1480.2L494.3 1499.3L494.5 1509.9L494.8 1515L495.1 1509.9L495.4 1517.5L495.8 1514.1L496.2 1518.6L496.7 1515.6L497.2 1520.6L497.8 1518.6L498.4 1521.6L499 1524.2L499.6 1524.4L500.1 1523.4L500.7 1524.1L501.2 1523.6L501.8 1524.9L502.3 1524.5L502.9 1522.7L503.4 1522.6L504 1526.6L504.5 1523.4L505.1 1525.3L505.6 1524.3L506.2 1522.6L506.7 1522.3L507.3 1523.8L508.4 1522.9L509 1645L509.2 1596L509.3 1565.4L509.4 1547.1L509.6 1537.3L509.4 1552.6L509.7 1540.6L510.7 1535.6L510.1 1531.6L511.4 1532.6L510.9 1527.6L511.9 1528.6L510 1524.6L509.5 1482.3L509.9 1500.4L510.1 1510.5L510.4 1515.3L510.7 1510.5L511 1517.8L511.4 1514.5L511.8 1518.6L512.3 1515.6L512.8 1520.6L513.4 1518.6L514 1521.6L514.6 1524.6L515.2 1521.4L515.7 1522.6L516.3 1523.4L516.8 1526.3L517.4 1519.6L517.9 1524.3L518.5 1522.7L519 1524.3L519.6 1522.8L520.1 1524.2L520.7 1526.3L521.2 1524.2L521.8 1524.3L522.3 1524.2L522.9 1522.3L524.1 1523.1L524.6 1647.6L524.8 1597.6L524.9 1566.3L525.1 1547.6L525.2 1537.6L525 1552.6L525.4 1540.6L526.4 1535.6L525.8 1531.6L527.1 1532.6L526.6 1527.6L527.6 1528.6L525.7 1524.6L525.1 1483.1L525.5 1500.9L525.8 1510.8L526 1515.5L526.4 1510.8L526.7 1517.9L527.1 1514.7L527.5 1518.6L528 1515.6L528.5 1520.6L529.1 1518.6L529.7 1521.6L530.3 1523.2L530.8 1522.2L531.4 1523.5L531.9 1523.2L532.5 1524.9L533 1523.5L533.6 1522.7L534.1 1526.1L534.7 1525.3L535.2 1525.8L535.8 1524.6L536.3 1523.4L536.9 1522.9L537.4 1523.1L538 1525.2L538.5 1523.8L539.7 1521.1L540.2 1639.7L540.4 1592.9L540.5 1563.6L540.7 1546L540.8 1536.7L540.6 1552.6L541 1540.6L542 1535.6L541.4 1531.6L542.7 1532.6L542.2 1527.6L543.2 1528.6L541.3 1524.6L540.7 1480.2L541.1 1499.3L541.4 1509.9L541.6 1515L542 1509.9L542.3 1517.5L542.7 1514.1L543.1 1518.6L543.6 1515.6L544.1 1520.6L544.7 1518.6L545.3 1521.6L545.9 1523.5L546.4 1521.2L547 1523.9L547.5 1521.6L548.1 1521.5L548.6 1523.8L549.2 1523.5L549.7 1520.8L550.3 1524.9L550.8 1527.3L551.4 1521.1L551.9 1526.7L552.5 1522.4L553 1522.8L553.6 1523.3L554.1 1521.1L555.3 1523.9L555.8 1639.7L556 1592.9L556.1 1563.6L556.3 1546L556.4 1536.7L556.2 1552.6L556.6 1540.6L557.6 1535.6L557 1531.6L558.3 1532.6L557.8 1527.6L558.8 1528.6L556.9 1524.6L556.3 1481.2L556.7 1499.8L557 1510.2L557.2 1515.1L557.6 1510.2L557.9 1517.6L558.3 1514.3L558.7 1518.6L559.2 1515.6L559.7 1520.6L560.3 1518.6L560.9 1521.6L561.5 1524.4L562 1522.3L562.6 1523.1L563.1 1521L563.7 1523L564.2 1525.2L564.8 1520.7L565.3 1522.9L565.9 1523.8L566.4 1525.4L567 1525.9L567.5 1522.8L568.1 1522.3L568.6 1524.4L569.2 1523L569.7 1523.1L570.9 1523.7L571.4 1647.6L571.6 1597.6L571.8 1566.3L571.9 1547.6L572 1537.6L571.9 1552.6L572.2 1540.6L573.2 1535.6L572.6 1531.6L573.9 1532.6L573.4 1527.6L574.4 1528.6L572.5 1524.6L571.9 1481L572.3 1499.7L572.6 1510.1L572.8 1515.1L573.2 1510.1L573.5 1517.6L573.9 1514.3L574.3 1518.6L574.8 1515.6L575.3 1520.6L575.9 1518.6L576.5 1521.6L577.1 1526.5L577.6 1524.1L578.2 1523.3L578.7 1524.6L579.3 1520.4L579.8 1523.6L580.4 1521.8L580.9 1527.7L581.5 1524.8L582 1523.8L582.6 1523.3L583.1 1519.3L583.7 1524.8L584.2 1526.4L584.8 1522.4L585.3 1524.8L586.5 1523.3L587.1 1653.2L587.2 1601L587.4 1568.3L587.5 1548.7L587.6 1538.3L587.5 1552.6L587.8 1540.6L588.8 1535.6L588.2 1531.6L589.5 1532.6L589 1527.6L590 1528.6L588.1 1524.6L587.6 1478.4L588 1498.3L588.2 1509.3L588.5 1514.6L588.8 1509.3L589.1 1517.3L589.5 1513.8L589.9 1518.6L590.4 1515.6L590.9 1520.6L591.5 1518.6L592.1 1521.6L592.7 1521L593.3 1525.2L593.8 1525.9L594.4 1524L594.9 1523.5L595.5 1524.9L596 1521L596.6 1523.8L597.1 1525.4L597.7 1521.5L598.2 1525.3L598.8 1522.9L599.3 1520.1L599.9 1523.4L600.4 1521.9L601 1524.1L602.1 1521.4L602.7 1650.4L602.9 1599.3L603 1567.3L603.1 1548.2L603.3 1537.9L603.1 1552.6L603.4 1540.6L604.4 1535.6L603.8 1531.6L605.1 1532.6L604.6 1527.6L605.6 1528.6L603.7 1524.6L603.2 1481.6L603.6 1500L603.8 1510.3L604.1 1515.2L604.4 1510.3L604.7 1517.7L605.1 1514.4L605.5 1518.6L606 1515.6L606.5 1520.6L607.1 1518.6L607.7 1521.6L608.3 1525.4L608.9 1522.3L609.4 1524.2L610 1522.6L610.5 1523.1L611.1 1525.6L611.6 1524L612.2 1522.9L612.7 1521.5L613.3 1525.6L613.8 1524.8L614.4 1523L614.9 1524L615.5 1521.8L616 1521.9L616.6 1522.2L617.7 1523L618.3 1655.3L618.5 1602.2L618.6 1569L618.8 1549.1L618.9 1538.5L618.7 1552.6L619 1540.6L620 1535.6L619.4 1531.6L620.7 1532.6L620.2 1527.6L621.2 1528.6L619.3 1524.6L618.8 1479.5L619.2 1498.9L619.4 1509.7L619.7 1514.8L620 1509.7L620.3 1517.4L620.7 1514L621.1 1518.6L621.6 1515.6L622.1 1520.6L622.7 1518.6L623.3 1521.6L623.9 1524.1L624.5 1522.3L625 1524.9L625.6 1524.9L626.1 1523.9L626.7 1525.4L627.2 1523.1L627.8 1523.4L628.3 1524.4L628.9 1523.5L629.4 1524.9L630 1521.5L630.5 1526L631.1 1522.3L631.6 1523.3L632.2 1521.3L633.4 1523.2L633.9 1651L634.1 1599.6L634.2 1567.5L634.4 1548.3L634.5 1538L634.3 1552.6L634.7 1540.6L635.7 1535.6L635.1 1531.6L636.4 1532.6L635.9 1527.6L636.9 1528.6L635 1524.6L634.4 1481.2L634.8 1499.8L635.1 1510.2L635.3 1515.1L635.7 1510.2L636 1517.6L636.4 1514.3L636.8 1518.6L637.3 1515.6L637.8 1520.6L638.4 1518.6L639 1521.6L639.6 1525.8L640.1 1525.4L640.7 1525L641.2 1521L641.8 1522.3L642.3 1522.8L642.9 1522L643.4 1525.5L644 1523.9L644.5 1523.6L645.1 1524.4L645.6 1522L646.2 1522.1L646.7 1522.1L647.3 1524.4L647.8 1524.2L649 1523.2L649.5 1655.7L649.7 1602.5L649.8 1569.2L650 1549.2L650.1 1538.6L650 1552.6L650.3 1540.6L651.3 1535.6L650.7 1531.6L652 1532.6L651.5 1527.6L652.5 1528.6L650.6 1524.6L650 1481L650.4 1499.7L650.7 1510.1L650.9 1515.1L651.3 1510.1L651.6 1517.6L652 1514.3L652.4 1518.6L652.9 1515.6L653.4 1520.6L654 1518.6L654.6 1521.6L655.2 1525.4L655.7 1521.3L656.3 1522.6L656.8 1523.9L657.4 1521.3L657.9 1522.7L658.5 1525.3L659 1525.5L659.6 1525.4L660.1 1523.7L660.7 1523.2L661.2 1525.4L661.8 1523L662.3 1524.2L662.9 1525.9L663.4 1523L664.6 1522L665.1 1654.6L665.3 1601.8L665.5 1568.8L665.6 1549L665.7 1538.4L665.6 1552.6L665.9 1540.6L666.9 1535.6L666.3 1531.6L667.6 1532.6L667.1 1527.6L668.1 1528.6L666.2 1524.6L665.6 1483.8L666 1501.3L666.3 1511L666.5 1515.6L666.9 1511L667.2 1517.9L667.6 1514.8L668 1518.6L668.5 1515.6L669 1520.6L669.6 1518.6L670.2 1521.6L670.8 1523.6L671.3 1524.6L671.9 1524.4L672.4 1523.9L673 1524.5L673.5 1520.9L674.1 1522.1L674.6 1523.9L675.2 1522L675.7 1521.3L676.3 1521.5L676.8 1522L677.4 1523.3L677.9 1521.9L678.5 1524L679 1526.5L680.2 1522.5L680.8 1651L680.9 1599.6L681.1 1567.5L681.2 1548.3L681.3 1538L681.2 1552.6L681.5 1540.6L682.5 1535.6L681.9 1531.6L683.2 1532.6L682.7 1527.6L683.7 1528.6L681.8 1524.6L681.3 1477L681.7 1497.5L681.9 1508.9L682.2 1514.4L682.5 1508.9L682.8 1517.1L683.2 1513.5L683.6 1518.6L684.1 1515.6L684.6 1520.6L685.2 1518.6L685.8 1521.6L686.4 1525.8L687 1524.1L687.5 1521.7L688.1 1523.2L688.6 1521.9L689.2 1524.9L689.7 1521.6L690.3 1525.8L690.8 1524.6L691.4 1520.2L691.9 1524.9L692.5 1526.2L693 1522.3L693.6 1525.3L694.1 1520.5L694.7 1524L695.8 1520.9L696.4 1651.4L696.6 1599.9L696.7 1567.7L696.8 1548.4L697 1538.1L696.8 1552.6L697.1 1540.6L698.1 1535.6L697.5 1531.6L698.8 1532.6L698.3 1527.6L699.3 1528.6L697.4 1524.6L696.9 1482.1L697.3 1500.3L697.5 1510.4L697.8 1515.3L698.1 1510.4L698.4 1517.7L698.8 1514.5L699.2 1518.6L699.7 1515.6L700.2 1520.6L700.8 1518.6L701.4 1521.6L702 1524.4L702.6 1520.6L703.1 1519.1L703.7 1524.3L704.2 1527.5L704.8 1522.6L705.3 1525L705.9 1523.8L706.4 1523.1L707 1524.6L707.5 1526.4L708.1 1521.5L708.6 1524.6L709.2 1524.2L709.7 1521.2L710.3 1526.3L711.4 1524.5L712 1641.8L712.2 1594.1L712.3 1564.3L712.4 1546.4L712.6 1536.9L712.4 1552.6L712.7 1540.6L713.7 1535.6L713.1 1531.6L714.4 1532.6L713.9 1527.6L714.9 1528.6L713 1524.6L712.5 1478.4L712.9 1498.3L713.1 1509.3L713.4 1514.6L713.7 1509.3L714 1517.3L714.4 1513.8L714.8 1518.6L715.3 1515.6L715.8 1520.6L716.4 1518.6L717 1521.6L717.6 1522L718.2 1526.6L718.7 1523.7L719.3 1523.3L719.8 1526.2L720.4 1524L720.9 1524.1L721.5 1526.2L722 1525.8L722.6 1525.1L723.1 1521.2L723.7 1520.9L724.2 1525.5L724.8 1522L725.3 1523.9L725.9 1521.8L727.1 1522.4L727.6 1640.8L727.8 1593.5L727.9 1564L728.1 1546.2L728.2 1536.8L728 1552.6L728.4 1540.6L729.4 1535.6L728.8 1531.6L730.1 1532.6L729.6 1527.6L730.6 1528.6L728.7 1524.6L728.1 1477.4L728.5 1497.7L728.8 1509L729 1514.5L729.4 1509L729.7 1517.2L730.1 1513.6L730.5 1518.6L731 1515.6L731.5 1520.6L732.1 1518.6L732.7 1521.6L733.3 1521.4L733.8 1526.4L734.4 1521.9L734.9 1523.4L735.5 1523.3L736 1525.7L736.6 1521.2L737.1 1523.5L737.7 1523.2L738.2 1524.5L738.8 1524.4L739.3 1522.8L739.9 1524L740.4 1523L741 1524.4L741.5 1523.4L742.7 1521.9L743.2 1641.8L743.4 1594.1L743.5 1564.3L743.7 1546.4L743.8 1536.9L743.6 1552.6L744 1540.6L745 1535.6L744.4 1531.6L745.7 1532.6L745.2 1527.6L746.2 1528.6L744.3 1524.6L743.7 1481L744.1 1499.7L744.4 1510.1L744.6 1515.1L745 1510.1L745.3 1517.6L745.7 1514.3L746.1 1518.6L746.6 1515.6L747.1 1520.6L747.7 1518.6L748.3 1521.6L748.9 1523.6L749.4 1524.2L750 1527.5L750.5 1522.8L751.1 1524.1L751.6 1526.1L752.2 1520.1L752.7 1520.6L753.3 1521.6L753.8 1523.4L754.4 1527.7L754.9 1524.3L755.5 1525.7L756 1523.2L756.6 1519.4L757.1 1519.7L758.3 1523.6L758.8 1639.7L759 1592.9L759.2 1563.6L759.3 1546L759.4 1536.7L759.2 1552.6L759.6 1540.6L760.6 1535.6L760 1531.6L761.3 1532.6L760.8 1527.6L761.8 1528.6L759.9 1524.6L759.3 1475.2L759.7 1496.5L760 1508.4L760.2 1514.1L760.6 1508.4L760.9 1516.9L761.3 1513.1L761.7 1518.6L762.2 1515.6L762.7 1520.6L763.3 1518.6L763.9 1521.6L764.5 1523.9L765 1521.4L765.6 1525.5L766.1 1521L766.7 1525.5L767.2 1526.1L767.8 1522.3L768.3 1521.7L768.9 1525L769.4 1521.7L770 1525.1L770.5 1521.6L771.1 1525L771.6 1523.8L772.2 1522.9L772.7 1522.1L773.9 1522.8L774.5 1636.5L774.6 1590.9L774.8 1562.5L774.9 1545.4L775 1536.3L774.8 1552.6L775.2 1540.6L776.2 1535.6L775.6 1531.6L776.9 1532.6L776.4 1527.6L777.4 1528.6L775.5 1524.6L775 1475.2L775.4 1496.5L775.6 1508.4L775.9 1514.1L776.2 1508.4L776.5 1516.9L776.9 1513.1L777.3 1518.6L777.8 1515.6L778.3 1520.6L778.9 1518.6L779.5 1521.6L780.1 1520.4L780.7 1523.1L781.2 1522.9L781.8 1524.8L782.3 1521.5L782.9 1526.5L783.4 1523.1L784 1521.7L784.5 1526L785.1 1526.4L785.6 1523.3L786.2 1522.1L786.7 1523.6L787.3 1522.4L787.8 1523.1L788.4 1526.2L788.9 1524.3L789.5 1523.8L789.8 1523.6" fill="none" stroke="#d52128" stroke-width="1.85" stroke-linejoin="round"/>
<line x1="158.50" y1="1522.60" x2="790.00" y2="1522.60" stroke="#231f20" stroke-width="1.2" />
<rect x="146.3" y="1443.0" width="656.0" height="472.7" fill="none" stroke="#000" stroke-width="3.8"/>
<line x1="131.30" y1="1889.40" x2="146.30" y2="1889.40" stroke="#000" stroke-width="2.4" />
<line x1="138.20" y1="1852.70" x2="146.30" y2="1852.70" stroke="#000" stroke-width="2.4" />
<line x1="131.30" y1="1816.00" x2="146.30" y2="1816.00" stroke="#000" stroke-width="2.4" />
<line x1="138.20" y1="1779.30" x2="146.30" y2="1779.30" stroke="#000" stroke-width="2.4" />
<line x1="131.30" y1="1742.60" x2="146.30" y2="1742.60" stroke="#000" stroke-width="2.4" />
<line x1="138.20" y1="1705.90" x2="146.30" y2="1705.90" stroke="#000" stroke-width="2.4" />
<line x1="131.30" y1="1669.20" x2="146.30" y2="1669.20" stroke="#000" stroke-width="2.4" />
<line x1="138.20" y1="1632.50" x2="146.30" y2="1632.50" stroke="#000" stroke-width="2.4" />
<line x1="131.30" y1="1595.80" x2="146.30" y2="1595.80" stroke="#000" stroke-width="2.4" />
<line x1="138.20" y1="1559.10" x2="146.30" y2="1559.10" stroke="#000" stroke-width="2.4" />
<line x1="131.30" y1="1522.40" x2="146.30" y2="1522.40" stroke="#000" stroke-width="2.4" />
<line x1="138.20" y1="1485.70" x2="146.30" y2="1485.70" stroke="#000" stroke-width="2.4" />
<line x1="131.30" y1="1449.00" x2="146.30" y2="1449.00" stroke="#000" stroke-width="2.4" />
<line x1="160.10" y1="1915.70" x2="160.10" y2="1930.10" stroke="#000" stroke-width="2.4" />
<line x1="238.30" y1="1915.70" x2="238.30" y2="1923.20" stroke="#000" stroke-width="2.4" />
<line x1="316.50" y1="1915.70" x2="316.50" y2="1930.10" stroke="#000" stroke-width="2.4" />
<line x1="394.70" y1="1915.70" x2="394.70" y2="1923.20" stroke="#000" stroke-width="2.4" />
<line x1="472.90" y1="1915.70" x2="472.90" y2="1930.10" stroke="#000" stroke-width="2.4" />
<line x1="551.10" y1="1915.70" x2="551.10" y2="1923.20" stroke="#000" stroke-width="2.4" />
<line x1="629.30" y1="1915.70" x2="629.30" y2="1930.10" stroke="#000" stroke-width="2.4" />
<line x1="707.50" y1="1915.70" x2="707.50" y2="1923.20" stroke="#000" stroke-width="2.4" />
<line x1="785.70" y1="1915.70" x2="785.70" y2="1930.10" stroke="#000" stroke-width="2.4" />
<text transform="translate(122.80,1456.90) scale(0.9400,1.0000)" fill="#000"><tspan x="-56.21" y="0.00" font-size="29.30" font-weight="bold" font-style="normal" font-family="Liberation Sans, Arial, Helvetica, sans-serif">0.05</tspan></text>
<text transform="translate(122.80,1530.30) scale(0.9400,1.0000)" fill="#000"><tspan x="-55.82" y="0.00" font-size="29.30" font-weight="bold" font-style="normal" font-family="Liberation Sans, Arial, Helvetica, sans-serif">0.00</tspan></text>
<text transform="translate(122.80,1603.70) scale(0.9400,1.0000)" fill="#000"><tspan x="-65.97" y="0.00" font-size="29.30" font-weight="bold" font-style="normal" font-family="Liberation Sans, Arial, Helvetica, sans-serif">-0.05</tspan></text>
<text transform="translate(122.80,1677.10) scale(0.9400,1.0000)" fill="#000"><tspan x="-65.58" y="0.00" font-size="29.30" font-weight="bold" font-style="normal" font-family="Liberation Sans, Arial, Helvetica, sans-serif">-0.10</tspan></text>
<text transform="translate(122.80,1750.50) scale(0.9400,1.0000)" fill="#000"><tspan x="-65.97" y="0.00" font-size="29.30" font-weight="bold" font-style="normal" font-family="Liberation Sans, Arial, Helvetica, sans-serif">-0.15</tspan></text>
<text transform="translate(122.80,1823.90) scale(0.9400,1.0000)" fill="#000"><tspan x="-65.58" y="0.00" font-size="29.30" font-weight="bold" font-style="normal" font-family="Liberation Sans, Arial, Helvetica, sans-serif">-0.20</tspan></text>
<text transform="translate(122.80,1897.30) scale(0.9400,1.0000)" fill="#000"><tspan x="-65.97" y="0.00" font-size="29.30" font-weight="bold" font-style="normal" font-family="Liberation Sans, Arial, Helvetica, sans-serif">-0.25</tspan></text>
<text transform="translate(160.10,1959.90) scale(0.9700,1.0000)" fill="#000"><tspan x="-8.13" y="0.00" font-size="29.30" font-weight="bold" font-style="normal" font-family="Liberation Sans, Arial, Helvetica, sans-serif">0</tspan></text>
<text transform="translate(316.50,1959.90) scale(0.9700,1.0000)" fill="#000"><tspan x="-16.15" y="0.00" font-size="29.30" font-weight="bold" font-style="normal" font-family="Liberation Sans, Arial, Helvetica, sans-serif">50</tspan></text>
<text transform="translate(472.90,1959.90) scale(0.9700,1.0000)" fill="#000"><tspan x="-24.76" y="0.00" font-size="29.30" font-weight="bold" font-style="normal" font-family="Liberation Sans, Arial, Helvetica, sans-serif">100</tspan></text>
<text transform="translate(629.30,1959.90) scale(0.9700,1.0000)" fill="#000"><tspan x="-24.76" y="0.00" font-size="29.30" font-weight="bold" font-style="normal" font-family="Liberation Sans, Arial, Helvetica, sans-serif">150</tspan></text>
<text transform="translate(785.70,1959.90) scale(0.9700,1.0000)" fill="#000"><tspan x="-24.35" y="0.00" font-size="29.30" font-weight="bold" font-style="normal" font-family="Liberation Sans, Arial, Helvetica, sans-serif">200</tspan></text>
<text transform="translate(400.20,1997.90) scale(0.9560,1.0000)" fill="#000"><tspan x="-0.37" y="0.00" font-size="32.90" font-weight="bold" font-style="normal" font-family="Liberation Sans, Arial, Helvetica, sans-serif">Time (min)</tspan></text>
<text transform="translate(33.80,1738.90) rotate(-90) scale(0.9877,1.0000)" fill="#000"><tspan x="-2.59" y="0.00" font-size="32.00" font-weight="normal" font-style="normal" font-family="Liberation Serif, Times New Roman, serif">μ</tspan><tspan x="14.56" y="0.00" font-size="32.00" font-weight="bold" font-style="normal" font-family="Liberation Sans, Arial, Helvetica, sans-serif">cal sec</tspan><tspan x="121.33" y="-11.00" font-size="19.00" font-weight="bold" font-style="normal" font-family="Liberation Sans, Arial, Helvetica, sans-serif">-1</tspan></text>
<text transform="translate(0.00,1413.30)" fill="#000"><tspan x="-3.19" y="0.00" font-size="64.00" font-weight="bold" font-style="normal" font-family="Liberation Sans, Arial, Helvetica, sans-serif">(e)</tspan></text>
<g fill="none" stroke="#d9252b" stroke-width="2.1"><rect x="965.9" y="1847.1" width="14.4" height="14.4"/><rect x="979.4" y="1871.5" width="14.4" height="14.4"/><rect x="992.8" y="1860.6" width="14.4" height="14.4"/><rect x="1006.7" y="1863.5" width="14.4" height="14.4"/><rect x="1019.7" y="1878.0" width="14.4" height="14.4"/><rect x="1033.1" y="1853.6" width="14.4" height="14.4"/><rect x="1046.5" y="1864.0" width="14.4" height="14.4"/><rect x="1060.5" y="1854.6" width="14.4" height="14.4"/><rect x="1073.9" y="1834.7" width="14.4" height="14.4"/><rect x="1087.3" y="1837.2" width="14.4" height="14.4"/><rect x="1100.8" y="1817.8" width="14.4" height="14.4"/><rect x="1129.1" y="1620.3" width="14.4" height="14.4"/><rect x="1143.0" y="1710.3" width="14.4" height="14.4"/><rect x="1156.5" y="1734.7" width="14.4" height="14.4"/><rect x="1170.9" y="1615.8" width="14.4" height="14.4"/><rect x="1184.8" y="1586.9" width="14.4" height="14.4"/><rect x="1198.8" y="1563.5" width="14.4" height="14.4"/><rect x="1213.2" y="1553.1" width="14.4" height="14.4"/><rect x="1227.1" y="1505.3" width="14.4" height="14.4"/><rect x="1242.1" y="1517.3" width="14.4" height="14.4"/><rect x="1256.5" y="1513.8" width="14.4" height="14.4"/><rect x="1270.9" y="1506.3" width="14.4" height="14.4"/><rect x="1285.3" y="1493.4" width="14.4" height="14.4"/><rect x="1300.3" y="1493.4" width="14.4" height="14.4"/><rect x="1314.7" y="1481.5" width="14.4" height="14.4"/><rect x="1330.1" y="1489.9" width="14.4" height="14.4"/><rect x="1344.0" y="1492.4" width="14.4" height="14.4"/><rect x="1359.5" y="1479.0" width="14.4" height="14.4"/><rect x="1374.9" y="1486.4" width="14.4" height="14.4"/><rect x="1389.8" y="1483.4" width="14.4" height="14.4"/><rect x="1404.7" y="1491.4" width="14.4" height="14.4"/><rect x="1419.7" y="1487.4" width="14.4" height="14.4"/><rect x="1435.1" y="1475.0" width="14.4" height="14.4"/><rect x="1450.5" y="1486.4" width="14.4" height="14.4"/><rect x="1465.9" y="1476.0" width="14.4" height="14.4"/><rect x="1481.8" y="1496.4" width="14.4" height="14.4"/><rect x="1497.3" y="1496.4" width="14.4" height="14.4"/></g>
<path d="M959.2 1878.5L962.7 1878.2L966.3 1877.8L969.8 1877.4L973.3 1876.9L976.9 1876.5L980.4 1876L983.9 1875.5L987.5 1874.9L991 1874.4L994.6 1873.8L998.1 1873.2L1001.6 1872.5L1005.2 1871.8L1008.7 1871.1L1012.2 1870.3L1015.8 1869.4L1019.3 1868.6L1022.8 1867.6L1026.4 1866.6L1029.9 1865.6L1033.4 1864.4L1037 1863.2L1040.5 1861.9L1044.1 1860.5L1047.6 1859.1L1051.1 1857.5L1054.7 1855.8L1058.2 1854L1061.7 1852L1065.3 1849.9L1068.8 1847.6L1072.3 1845.2L1075.9 1842.6L1079.4 1839.8L1082.9 1836.7L1086.5 1833.4L1090 1829.9L1093.5 1826L1097.1 1821.9L1100.6 1817.4L1104.2 1812.6L1107.7 1807.4L1111.2 1801.9L1114.8 1795.9L1118.3 1789.5L1121.8 1782.6L1125.4 1775.3L1128.9 1767.5L1132.4 1759.3L1136 1750.7L1139.5 1741.7L1143 1732.3L1146.6 1722.5L1150.1 1712.6L1153.7 1702.4L1157.2 1692.1L1160.7 1681.7L1164.3 1671.4L1167.8 1661.2L1171.3 1651.2L1174.9 1641.5L1178.4 1632.1L1181.9 1623L1185.5 1614.3L1189 1606.1L1192.5 1598.3L1196.1 1591L1199.6 1584.1L1203.2 1577.6L1206.7 1571.6L1210.2 1566L1213.8 1560.8L1217.3 1556L1220.8 1551.5L1224.4 1547.3L1227.9 1543.5L1231.4 1539.9L1235 1536.6L1238.5 1533.5L1242 1530.7L1245.6 1528L1249.1 1525.6L1252.7 1523.3L1256.2 1521.2L1259.7 1519.2L1263.3 1517.4L1266.8 1515.7L1270.3 1514.1L1273.9 1512.6L1277.4 1511.2L1280.9 1509.9L1284.5 1508.7L1288 1507.6L1291.5 1506.5L1295.1 1505.5L1298.6 1504.6L1302.1 1503.7L1305.7 1502.8L1309.2 1502.1L1312.8 1501.3L1316.3 1500.6L1319.8 1499.9L1323.4 1499.3L1326.9 1498.7L1330.4 1498.2L1334 1497.6L1337.5 1497.1L1341 1496.6L1344.6 1496.2L1348.1 1495.7L1351.6 1495.3L1355.2 1494.9L1358.7 1494.6L1362.3 1494.2L1365.8 1493.9L1369.3 1493.5L1372.9 1493.2L1376.4 1492.9L1379.9 1492.6L1383.5 1492.4L1387 1492.1L1390.5 1491.8L1394.1 1491.6L1397.6 1491.4L1401.1 1491.2L1404.7 1490.9L1408.2 1490.7L1411.8 1490.5L1415.3 1490.3L1418.8 1490.2L1422.4 1490L1425.9 1489.8L1429.4 1489.7L1433 1489.5L1436.5 1489.4L1440 1489.2L1443.6 1489.1L1447.1 1488.9L1450.6 1488.8L1454.2 1488.7L1457.7 1488.6L1461.3 1488.4L1464.8 1488.3L1468.3 1488.2L1471.9 1488.1L1475.4 1488L1478.9 1487.9L1482.5 1487.8L1486 1487.7L1489.5 1487.6L1493.1 1487.5L1496.6 1487.4L1500.1 1487.4L1503.7 1487.3L1507.2 1487.2L1510.8 1487.1L1514.3 1487L1517.8 1487L1521.4 1486.9" fill="none" stroke="#231f20" stroke-width="4.2" stroke-linecap="round"/>
<rect x="915.6" y="1449.3" width="655.5" height="468.2" fill="none" stroke="#000" stroke-width="3.5"/>
<line x1="901.60" y1="1484.70" x2="915.90" y2="1484.70" stroke="#000" stroke-width="1.6" />
<line x1="908.30" y1="1585.10" x2="915.90" y2="1585.10" stroke="#000" stroke-width="1.6" />
<line x1="901.60" y1="1685.50" x2="915.90" y2="1685.50" stroke="#000" stroke-width="1.6" />
<line x1="908.30" y1="1785.90" x2="915.90" y2="1785.90" stroke="#000" stroke-width="1.6" />
<line x1="901.60" y1="1886.30" x2="915.90" y2="1886.30" stroke="#000" stroke-width="1.6" />
<line x1="956.70" y1="1917.50" x2="956.70" y2="1925.50" stroke="#000" stroke-width="1.8" />
<line x1="1016.90" y1="1917.50" x2="1016.90" y2="1922.50" stroke="#000" stroke-width="1.8" />
<line x1="1077.10" y1="1917.50" x2="1077.10" y2="1925.50" stroke="#000" stroke-width="1.8" />
<line x1="1137.30" y1="1917.50" x2="1137.30" y2="1922.50" stroke="#000" stroke-width="1.8" />
<line x1="1197.50" y1="1917.50" x2="1197.50" y2="1925.50" stroke="#000" stroke-width="1.8" />
<line x1="1257.70" y1="1917.50" x2="1257.70" y2="1922.50" stroke="#000" stroke-width="1.8" />
<line x1="1317.90" y1="1917.50" x2="1317.90" y2="1925.50" stroke="#000" stroke-width="1.8" />
<line x1="1378.10" y1="1917.50" x2="1378.10" y2="1922.50" stroke="#000" stroke-width="1.8" />
<line x1="1438.30" y1="1917.50" x2="1438.30" y2="1925.50" stroke="#000" stroke-width="1.8" />
<line x1="1498.50" y1="1917.50" x2="1498.50" y2="1922.50" stroke="#000" stroke-width="1.8" />
<line x1="1558.70" y1="1917.50" x2="1558.70" y2="1925.50" stroke="#000" stroke-width="1.8" />
<text transform="translate(892.60,1492.60) scale(0.9700,1.0000)" fill="#000"><tspan x="-38.58" y="0.00" font-size="28.60" font-weight="bold" font-style="normal" font-family="Liberation Sans, Arial, Helvetica, sans-serif">0.0</tspan></text>
<text transform="translate(892.60,1693.40) scale(0.9700,1.0000)" fill="#000"><tspan x="-48.11" y="0.00" font-size="28.60" font-weight="bold" font-style="normal" font-family="Liberation Sans, Arial, Helvetica, sans-serif">-2.0</tspan></text>
<text transform="translate(892.60,1894.20) scale(0.9700,1.0000)" fill="#000"><tspan x="-48.11" y="0.00" font-size="28.60" font-weight="bold" font-style="normal" font-family="Liberation Sans, Arial, Helvetica, sans-serif">-4.0</tspan></text>
<text transform="translate(956.70,1961.90) scale(0.9600,1.0000)" fill="#000"><tspan x="-18.96" y="0.00" font-size="27.30" font-weight="bold" font-style="normal" font-family="Liberation Sans, Arial, Helvetica, sans-serif">0.0</tspan></text>
<text transform="translate(1077.10,1961.90) scale(0.9600,1.0000)" fill="#000"><tspan x="-19.14" y="0.00" font-size="27.30" font-weight="bold" font-style="normal" font-family="Liberation Sans, Arial, Helvetica, sans-serif">0.5</tspan></text>
<text transform="translate(1197.50,1961.90) scale(0.9600,1.0000)" fill="#000"><tspan x="-19.28" y="0.00" font-size="27.30" font-weight="bold" font-style="normal" font-family="Liberation Sans, Arial, Helvetica, sans-serif">1.0</tspan></text>
<text transform="translate(1317.90,1961.90) scale(0.9600,1.0000)" fill="#000"><tspan x="-19.46" y="0.00" font-size="27.30" font-weight="bold" font-style="normal" font-family="Liberation Sans, Arial, Helvetica, sans-serif">1.5</tspan></text>
<text transform="translate(1438.30,1961.90) scale(0.9600,1.0000)" fill="#000"><tspan x="-18.89" y="0.00" font-size="27.30" font-weight="bold" font-style="normal" font-family="Liberation Sans, Arial, Helvetica, sans-serif">2.0</tspan></text>
<text transform="translate(1558.70,1961.90) scale(0.9600,1.0000)" fill="#000"><tspan x="-19.07" y="0.00" font-size="27.30" font-weight="bold" font-style="normal" font-family="Liberation Sans, Arial, Helvetica, sans-serif">2.5</tspan></text>
<text transform="translate(1071.30,1997.30) scale(1.0470,1.0000)" fill="#000"><tspan x="-2.03" y="0.00" font-size="30.30" font-weight="bold" font-style="normal" font-family="Liberation Sans, Arial, Helvetica, sans-serif">Molar Ratio of Spy dimer</tspan></text>
<text transform="translate(838.10,1828.60) rotate(-90) scale(1.0173,1.0000)" fill="#000"><tspan x="-2.20" y="0.00" font-size="31.50" font-weight="bold" font-style="normal" font-family="Liberation Sans, Arial, Helvetica, sans-serif">kcal mol</tspan><tspan x="123.86" y="-11.00" font-size="19.00" font-weight="bold" font-style="normal" font-family="Liberation Sans, Arial, Helvetica, sans-serif">-1</tspan><tspan x="140.76" y="0.00" font-size="31.50" font-weight="bold" font-style="normal" font-family="Liberation Sans, Arial, Helvetica, sans-serif"> of injectant</tspan></text>
<text transform="translate(799.00,1413.00)" fill="#000"><tspan x="-3.19" y="0.00" font-size="64.00" font-weight="bold" font-style="normal" font-family="Liberation Sans, Arial, Helvetica, sans-serif">(f)</tspan></text>
<rect x="1201.2" y="1628.5" width="341.0" height="125.3" fill="none" stroke="#000" stroke-width="2"/>
<text transform="translate(1214.00,1656.80) scale(1.0571,1.0000)" fill="#231f20"><tspan x="-1.51" y="0.00" font-size="22.50" font-weight="bold" font-style="normal" font-family="Liberation Sans, Arial, Helvetica, sans-serif">N = 0.83 ± 0.02 sites</tspan></text>
<text transform="translate(1214.00,1685.80) scale(1.0489,1.0000)" fill="#231f20"><tspan x="-1.51" y="0.00" font-size="22.50" font-weight="bold" font-style="normal" font-family="Liberation Sans, Arial, Helvetica, sans-serif">K = 8.01e5 ± 2.20e5 M</tspan><tspan x="227.87" y="-8.50" font-size="13.50" font-weight="bold" font-style="normal" font-family="Liberation Sans, Arial, Helvetica, sans-serif">-1</tspan></text>
<text transform="translate(1212.80,1714.10) scale(1.0534,1.0000)" fill="#231f20"><tspan x="-0.91" y="0.00" font-size="22.50" font-weight="bold" font-style="normal" font-family="Liberation Sans, Arial, Helvetica, sans-serif">ΔH = -4087 ± 131.8 kcal mol</tspan><tspan x="292.15" y="-8.50" font-size="13.50" font-weight="bold" font-style="normal" font-family="Liberation Sans, Arial, Helvetica, sans-serif">-1</tspan></text>
<text transform="translate(1212.80,1742.60) scale(1.0513,1.0000)" fill="#231f20"><tspan x="-0.91" y="0.00" font-size="22.50" font-weight="bold" font-style="normal" font-family="Liberation Sans, Arial, Helvetica, sans-serif">ΔS = 12.6 cal mol</tspan><tspan x="183.48" y="-8.50" font-size="13.50" font-weight="bold" font-style="normal" font-family="Liberation Sans, Arial, Helvetica, sans-serif">-1</tspan><tspan x="195.49" y="0.00" font-size="22.50" font-weight="bold" font-style="normal" font-family="Liberation Sans, Arial, Helvetica, sans-serif">deg</tspan><tspan x="235.49" y="-8.50" font-size="13.50" font-weight="bold" font-style="normal" font-family="Liberation Sans, Arial, Helvetica, sans-serif">-1</tspan></text>
</svg></body></html>
